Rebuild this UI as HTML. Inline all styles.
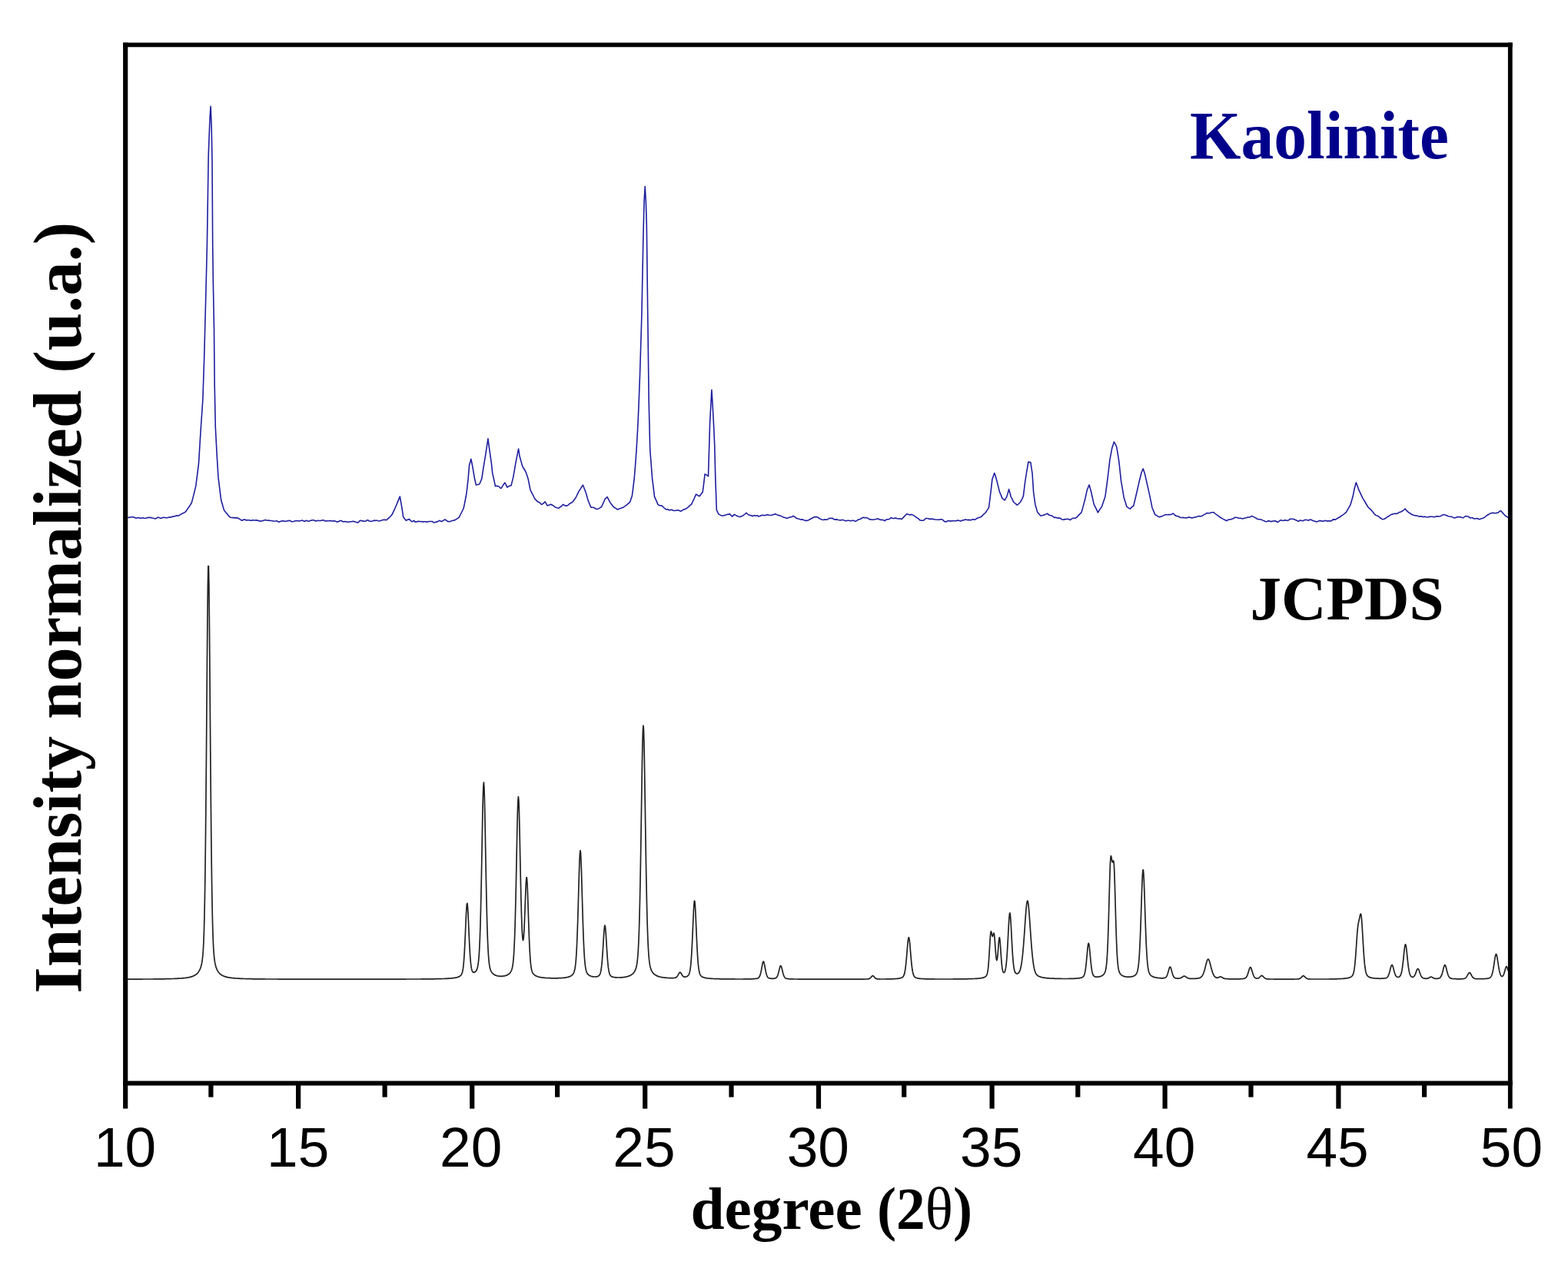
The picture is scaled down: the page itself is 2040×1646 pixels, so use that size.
<!DOCTYPE html>
<html lang="en"><head><meta charset="utf-8"><title>XRD Kaolinite vs JCPDS</title>
<style>
html,body{margin:0;padding:0;background:#fff;}
body{width:2040px;height:1646px;overflow:hidden;}
svg{display:block;}
.ax line{stroke:#000;fill:none;stroke-linecap:butt;}
.tl text{font-family:"Liberation Sans",Arial,Helvetica,sans-serif;font-size:73px;fill:#000;text-anchor:middle;}
.b{font-family:"Liberation Serif","Times New Roman",Times,serif;font-weight:bold;}
</style></head>
<body>
<svg width="2040" height="1646" viewBox="0 0 2040 1646">
<rect width="2040" height="1646" fill="#fff"/>
<g id="curves" fill="none" stroke-linejoin="round" stroke-linecap="round">
<path d="M166.6,673.3 L168.1,673.4 L169.6,673.0 L171.1,672.7 L172.6,672.7 L174.1,672.9 L175.6,673.8 L177.1,674.3 L178.6,673.7 L180.1,673.5 L181.9,674.1 L183.1,674.4 L184.6,674.0 L186.1,673.8 L187.6,674.3 L189.1,674.5 L190.6,674.0 L192.1,673.6 L193.6,673.4 L195.1,673.3 L196.5,673.6 L198.1,674.0 L199.6,674.2 L201.1,674.7 L202.6,674.9 L204.1,674.0 L205.6,673.1 L207.1,673.6 L208.6,674.4 L210.1,674.1 L211.6,673.5 L213.1,673.4 L214.7,673.5 L216.1,673.7 L217.6,673.8 L219.1,673.3 L220.6,673.1 L222.1,673.1 L223.6,672.4 L225.1,672.1 L226.6,672.0 L228.1,671.4 L229.6,670.8 L231.1,671.1 L232.9,670.8 L234.1,669.8 L235.6,669.1 L237.1,668.2 L238.6,667.4 L240.1,666.9 L242.0,665.4 L243.1,663.5 L244.6,661.4 L246.1,659.2 L247.6,657.0 L249.3,654.3 L250.6,649.4 L252.1,643.4 L253.6,637.4 L254.8,632.4 L256.6,618.3 L258.5,603.2 L259.6,585.1 L261.4,555.8 L262.6,538.7 L263.9,519.3 L265.7,464.6 L267.6,391.7 L268.6,351.8 L269.4,318.8 L270.1,275.6 L271.2,202.1 L273.0,154.7 L274.1,138.3 L275.2,165.6 L276.0,209.4 L276.7,318.8 L277.4,369.8 L278.5,428.2 L279.2,501.1 L280.3,555.8 L282.2,592.2 L284.0,621.4 L285.1,630.1 L286.6,642.1 L287.6,650.5 L289.6,657.3 L291.3,663.4 L292.6,665.2 L294.1,667.1 L295.6,668.8 L297.1,670.7 L298.6,672.6 L300.1,673.2 L301.6,673.5 L303.1,673.6 L304.6,673.6 L306.1,673.9 L307.6,673.7 L309.1,673.9 L310.6,674.8 L312.1,675.5 L313.1,676.5 L315.1,677.2 L316.6,676.3 L318.1,675.9 L319.6,676.6 L321.1,676.9 L322.6,676.7 L324.1,676.8 L325.6,677.3 L327.1,677.2 L328.6,676.7 L330.1,676.9 L331.6,677.0 L333.1,676.9 L334.6,677.1 L336.1,677.4 L337.6,678.0 L339.1,678.1 L340.6,677.8 L342.3,677.6 L343.6,677.1 L345.1,676.5 L346.6,676.9 L348.1,677.3 L349.6,677.1 L351.1,677.4 L352.6,677.5 L354.1,677.7 L355.6,678.0 L357.1,678.3 L358.6,678.0 L360.1,677.6 L361.6,678.8 L363.1,679.3 L364.6,678.5 L366.1,678.0 L367.6,677.7 L369.1,677.9 L370.6,678.4 L372.1,678.2 L373.6,677.8 L375.1,677.6 L376.6,677.3 L378.1,677.7 L378.8,678.6 L379.6,678.8 L381.1,678.8 L382.6,678.3 L384.1,677.7 L385.6,677.6 L387.1,677.7 L388.6,677.9 L390.1,677.8 L391.6,677.4 L393.1,676.9 L394.6,677.6 L396.1,678.5 L397.6,677.7 L399.1,677.2 L400.6,678.2 L402.1,678.3 L403.6,677.3 L405.1,677.1 L406.6,676.8 L408.1,676.8 L409.6,677.6 L411.1,677.9 L412.6,677.5 L414.1,677.3 L415.2,677.5 L417.1,677.4 L418.6,677.1 L420.1,676.7 L421.6,677.1 L423.1,678.0 L424.6,677.9 L426.1,677.8 L427.6,677.8 L429.1,677.5 L430.6,677.6 L432.1,678.0 L433.6,677.9 L435.1,677.8 L436.6,678.3 L438.1,678.9 L439.6,678.9 L441.1,678.3 L442.6,677.5 L444.1,677.5 L445.6,678.6 L447.1,679.0 L448.6,678.6 L450.1,678.8 L451.7,679.1 L453.1,679.3 L454.6,679.0 L456.1,678.8 L457.6,678.7 L459.1,678.3 L460.6,678.6 L462.1,679.1 L463.6,679.5 L465.1,680.1 L466.6,679.4 L468.1,677.6 L469.6,677.2 L471.1,678.0 L472.6,677.9 L474.1,678.2 L475.6,678.3 L477.1,677.0 L478.6,676.7 L480.1,677.9 L481.6,678.3 L483.1,678.2 L484.6,678.0 L486.1,677.4 L487.6,677.1 L488.2,677.5 L489.1,677.3 L490.6,677.2 L492.1,677.7 L493.6,678.0 L495.1,677.6 L496.6,676.9 L498.1,676.5 L499.6,676.3 L501.1,676.4 L502.8,676.7 L504.1,675.4 L505.6,674.1 L507.1,672.8 L508.6,671.3 L510.0,669.6 L511.6,666.3 L513.1,663.2 L514.6,659.8 L515.5,657.7 L517.6,652.6 L519.1,648.9 L520.3,646.0 L522.4,657.9 L523.6,665.4 L524.6,672.5 L526.6,675.3 L528.3,677.3 L529.6,676.5 L531.1,675.9 L532.6,675.6 L534.1,677.3 L535.6,678.8 L537.1,678.3 L538.6,677.4 L539.2,678.0 L540.0,679.1 L541.6,679.1 L543.1,678.6 L544.6,678.4 L546.1,678.5 L547.6,678.7 L548.8,678.5 L550.3,679.1 L552.1,678.7 L553.6,678.8 L555.1,679.1 L556.6,679.0 L558.1,678.5 L559.6,678.5 L561.1,678.5 L562.6,678.6 L564.1,679.8 L565.6,679.9 L567.1,679.1 L568.6,679.1 L570.1,678.3 L571.6,677.3 L573.1,678.0 L574.6,678.6 L575.3,678.4 L576.1,677.7 L577.6,676.7 L579.0,676.0 L580.6,677.2 L582.6,678.5 L583.6,678.6 L585.1,678.8 L586.6,678.1 L588.5,677.6 L589.6,677.2 L591.1,676.9 L592.6,676.3 L594.1,675.3 L595.6,674.3 L597.4,673.0 L598.6,670.5 L600.1,667.5 L601.6,664.5 L603.2,661.2 L604.6,654.4 L606.1,646.5 L606.9,642.1 L607.6,636.4 L609.1,622.9 L610.6,605.3 L612.1,600.0 L612.8,597.2 L613.6,601.0 L615.0,608.2 L616.6,617.6 L617.2,621.5 L618.1,625.2 L619.4,631.0 L621.1,630.6 L622.6,630.2 L623.8,630.0 L625.6,625.8 L626.8,622.9 L629.0,608.2 L630.1,601.7 L631.9,590.6 L633.1,582.9 L634.9,570.8 L636.3,581.7 L637.6,590.4 L639.3,602.3 L640.7,615.6 L642.1,621.8 L643.6,628.7 L644.4,632.6 L645.1,632.2 L646.6,632.4 L648.1,632.7 L648.8,632.7 L649.6,633.5 L651.1,635.0 L651.8,635.5 L652.6,634.4 L654.1,632.1 L655.6,629.7 L656.9,628.1 L658.6,631.3 L659.9,634.1 L661.6,632.8 L663.1,632.1 L665.0,631.8 L666.1,627.6 L667.9,620.1 L669.1,613.2 L670.9,602.3 L672.1,596.4 L673.6,588.9 L674.6,584.0 L676.0,593.5 L678.1,600.9 L679.7,606.7 L681.1,609.0 L682.6,611.5 L684.1,614.1 L685.6,618.6 L687.1,623.1 L688.6,630.5 L690.0,637.6 L691.6,640.6 L693.1,643.6 L694.6,646.5 L695.9,649.1 L697.6,650.9 L699.1,652.3 L700.6,653.2 L702.1,654.1 L703.6,655.5 L704.7,656.5 L706.6,655.2 L708.1,653.9 L709.1,652.9 L711.1,656.1 L712.1,658.0 L714.1,657.3 L715.6,656.8 L716.5,656.2 L718.6,657.3 L720.1,658.1 L721.6,659.3 L723.1,660.3 L724.6,660.7 L726.1,661.0 L726.8,661.3 L727.6,660.7 L729.1,659.6 L730.6,658.5 L732.6,656.4 L733.6,656.9 L735.1,657.9 L737.1,658.3 L738.1,657.8 L739.6,656.8 L741.1,655.4 L742.6,654.5 L744.4,653.8 L745.6,652.3 L747.1,650.3 L748.8,648.1 L750.1,645.5 L751.6,642.3 L753.2,639.0 L754.6,637.1 L756.1,634.7 L757.6,632.2 L758.4,631.2 L759.1,633.0 L760.6,636.8 L762.1,640.6 L763.6,645.8 L765.0,650.9 L766.6,654.8 L768.1,658.4 L768.7,659.9 L769.6,660.1 L771.1,660.2 L772.6,660.5 L774.1,661.4 L775.6,662.3 L776.8,662.5 L778.6,661.9 L780.1,661.1 L781.6,659.9 L782.6,659.5 L784.6,655.2 L786.1,651.7 L787.1,649.3 L789.1,647.6 L790.0,646.5 L792.1,650.7 L793.7,653.6 L795.1,655.6 L796.6,657.6 L798.1,659.3 L798.8,660.2 L799.6,660.5 L801.1,661.3 L802.6,662.3 L803.2,662.9 L804.1,662.7 L805.6,662.0 L807.1,661.5 L808.6,660.9 L810.6,660.3 L811.6,659.7 L813.1,658.7 L814.6,657.6 L816.1,656.3 L817.6,654.9 L819.4,653.8 L820.6,650.4 L822.4,645.0 L823.6,635.6 L825.2,622.6 L826.6,605.3 L828.1,584.7 L829.6,558.4 L830.2,546.8 L831.1,525.0 L832.5,488.5 L834.1,436.5 L834.9,409.7 L835.6,374.4 L836.9,307.5 L838.1,260.8 L839.2,242.6 L840.4,263.8 L841.3,292.9 L842.7,406.8 L844.2,523.5 L845.7,584.7 L847.6,609.5 L848.6,622.6 L850.6,638.6 L851.5,646.1 L853.6,650.9 L855.1,654.4 L855.9,656.3 L856.6,656.9 L858.1,657.8 L859.6,657.8 L861.1,658.1 L861.7,658.5 L862.6,659.5 L864.1,661.0 L865.6,662.2 L867.5,663.1 L868.6,662.6 L870.1,663.6 L871.6,663.8 L873.1,663.2 L874.6,663.5 L876.1,664.2 L877.6,664.5 L879.1,664.3 L880.6,664.1 L882.1,663.8 L883.6,664.3 L885.1,665.1 L886.6,664.8 L888.1,663.8 L889.6,662.9 L890.9,662.8 L892.6,661.8 L894.1,660.8 L895.6,659.6 L897.1,658.2 L898.6,656.9 L899.6,656.1 L901.6,652.0 L903.1,648.8 L904.6,645.4 L905.5,643.2 L907.6,644.3 L909.1,645.3 L909.9,645.7 L910.6,644.9 L912.1,642.9 L913.6,641.0 L914.2,640.2 L915.1,633.5 L917.1,616.9 L918.1,617.4 L919.6,618.1 L921.5,619.7 L922.6,584.1 L923.6,549.7 L925.9,507.4 L927.1,526.5 L927.9,541.0 L928.6,554.4 L929.7,578.9 L930.9,625.6 L931.6,643.9 L932.3,663.5 L933.1,665.1 L934.7,668.8 L936.1,669.6 L937.6,670.4 L939.6,671.2 L940.6,671.0 L942.1,670.6 L943.6,670.3 L945.1,669.8 L946.6,669.3 L948.1,669.1 L949.4,668.9 L951.1,670.6 L952.4,672.1 L954.1,670.7 L955.3,669.4 L957.1,670.4 L958.6,671.2 L960.1,671.8 L961.6,672.2 L963.1,672.5 L964.6,671.8 L966.1,671.1 L967.6,670.2 L969.1,669.0 L971.0,667.3 L972.1,668.5 L973.6,669.7 L975.1,670.4 L976.6,670.6 L978.1,671.1 L978.8,671.8 L979.6,671.3 L981.1,670.6 L982.6,671.1 L984.1,671.0 L985.6,670.8 L986.7,671.9 L988.6,671.5 L990.1,670.7 L991.6,670.2 L992.5,670.4 L994.6,670.8 L996.1,670.3 L997.6,669.9 L999.1,669.8 L1000.4,670.2 L1002.1,670.5 L1003.6,670.3 L1005.1,669.9 L1006.6,669.5 L1008.2,668.7 L1009.6,669.1 L1011.1,669.9 L1012.6,670.4 L1014.1,670.7 L1015.6,671.2 L1017.1,671.9 L1018.6,672.7 L1020.1,673.2 L1022.0,673.8 L1023.1,674.4 L1024.6,674.3 L1026.1,673.6 L1027.6,672.9 L1029.1,672.7 L1030.6,672.5 L1031.8,671.4 L1033.6,672.3 L1035.1,673.5 L1036.6,674.6 L1038.1,675.0 L1039.6,675.2 L1041.1,675.8 L1042.6,676.1 L1044.1,675.9 L1045.5,676.6 L1047.1,677.3 L1048.6,677.4 L1050.1,677.4 L1051.6,676.9 L1053.3,676.0 L1054.6,675.3 L1056.1,674.5 L1057.6,673.5 L1059.1,672.9 L1060.6,672.6 L1061.2,672.9 L1062.1,672.4 L1063.6,672.9 L1065.1,674.0 L1066.6,674.9 L1068.1,675.6 L1069.6,676.2 L1071.0,676.5 L1072.6,676.0 L1074.1,676.1 L1075.6,676.3 L1077.1,675.7 L1078.6,674.5 L1080.1,674.2 L1080.8,674.5 L1081.6,674.3 L1083.1,674.4 L1084.6,675.5 L1086.1,676.1 L1087.6,675.9 L1089.1,676.1 L1090.6,676.5 L1092.1,676.8 L1093.6,676.9 L1095.1,676.5 L1096.6,676.5 L1098.1,677.0 L1099.6,677.4 L1100.4,677.9 L1101.1,677.7 L1102.6,677.2 L1104.1,677.2 L1105.6,677.6 L1107.1,677.7 L1108.6,677.2 L1110.1,677.2 L1112.2,678.1 L1113.1,678.3 L1114.6,677.6 L1116.1,676.4 L1117.6,675.8 L1119.1,675.5 L1120.6,674.5 L1122.1,673.6 L1123.9,673.3 L1125.1,673.8 L1126.6,673.8 L1128.1,673.8 L1129.6,674.6 L1131.1,675.7 L1131.8,675.9 L1132.6,675.8 L1134.1,676.2 L1135.6,676.3 L1137.1,676.0 L1138.6,675.8 L1140.1,675.4 L1141.6,675.0 L1143.5,675.4 L1144.6,676.2 L1146.1,676.4 L1147.6,676.3 L1149.1,676.7 L1150.6,677.4 L1151.4,677.6 L1152.1,676.8 L1153.6,675.9 L1155.1,675.7 L1156.6,675.6 L1158.1,674.6 L1159.2,673.6 L1161.1,674.3 L1162.6,674.8 L1164.1,674.1 L1165.6,674.0 L1167.1,674.7 L1168.6,675.0 L1170.1,674.7 L1171.6,675.0 L1172.9,675.6 L1174.6,674.0 L1176.1,672.4 L1177.6,670.7 L1179.1,669.2 L1179.8,668.7 L1180.6,669.1 L1182.1,669.6 L1183.6,670.0 L1185.1,669.6 L1186.6,669.6 L1188.6,670.6 L1189.6,671.3 L1191.1,672.4 L1192.6,673.5 L1194.1,674.4 L1195.6,675.5 L1196.5,676.7 L1198.6,677.1 L1200.1,677.3 L1201.6,677.2 L1203.1,675.9 L1204.3,674.5 L1206.1,674.5 L1207.6,674.8 L1209.1,675.4 L1210.6,675.4 L1212.1,675.1 L1213.6,675.4 L1215.1,675.6 L1216.6,676.0 L1218.1,676.3 L1219.6,676.2 L1221.1,676.3 L1222.6,676.1 L1223.9,675.8 L1225.6,675.8 L1227.1,676.9 L1228.6,678.4 L1230.1,678.9 L1231.6,678.6 L1233.1,677.8 L1234.6,677.6 L1236.1,678.1 L1237.6,677.9 L1239.1,677.6 L1240.6,677.7 L1242.1,677.8 L1243.5,677.8 L1245.1,677.4 L1246.6,677.0 L1248.1,677.5 L1249.6,678.1 L1251.1,677.4 L1252.6,676.8 L1253.3,677.0 L1254.1,676.8 L1255.6,676.0 L1257.1,676.2 L1258.6,676.6 L1260.0,676.4 L1261.6,676.6 L1263.1,676.8 L1264.6,676.1 L1266.1,675.7 L1267.6,676.2 L1268.8,676.1 L1270.6,674.7 L1272.1,673.9 L1273.6,673.5 L1275.1,673.1 L1276.2,672.8 L1278.1,670.9 L1279.6,669.3 L1281.1,668.0 L1282.1,667.2 L1284.1,664.1 L1285.6,661.9 L1286.5,660.5 L1288.7,642.9 L1290.1,630.9 L1290.9,623.7 L1291.6,621.7 L1293.1,617.3 L1293.8,615.5 L1294.6,617.7 L1296.1,622.8 L1296.8,625.2 L1297.6,628.4 L1299.1,634.4 L1300.4,639.9 L1302.1,643.8 L1304.1,648.6 L1305.1,649.1 L1307.1,651.0 L1308.1,649.3 L1310.0,645.9 L1311.1,642.1 L1312.6,636.6 L1314.1,641.8 L1315.1,646.0 L1317.1,649.9 L1318.8,653.4 L1320.1,654.5 L1321.6,655.7 L1323.2,657.2 L1324.6,656.3 L1326.1,654.7 L1327.6,653.2 L1329.1,650.5 L1330.6,647.4 L1331.3,645.8 L1332.1,639.9 L1333.5,628.2 L1335.1,618.0 L1335.7,613.5 L1336.6,608.8 L1337.9,601.0 L1339.6,601.4 L1340.9,601.7 L1343.1,616.5 L1344.6,640.1 L1345.6,647.5 L1346.8,656.2 L1348.6,662.4 L1349.7,666.4 L1351.6,668.6 L1353.1,670.2 L1354.1,671.3 L1356.1,670.8 L1357.6,670.2 L1359.1,669.7 L1360.6,669.2 L1362.1,668.4 L1362.9,668.2 L1363.6,669.3 L1365.1,670.2 L1366.6,670.6 L1368.1,670.9 L1369.6,671.9 L1371.1,673.1 L1371.8,673.4 L1372.6,673.2 L1374.1,673.4 L1375.6,674.0 L1377.1,674.1 L1378.6,674.1 L1380.6,675.0 L1381.6,676.0 L1383.1,676.2 L1384.6,675.9 L1386.1,675.6 L1387.6,675.5 L1389.1,675.2 L1390.6,675.8 L1392.4,676.6 L1393.6,675.7 L1395.1,674.6 L1396.6,674.2 L1398.1,674.2 L1399.6,673.9 L1401.2,672.9 L1402.6,671.1 L1404.1,669.6 L1405.6,668.1 L1407.1,666.5 L1408.6,661.1 L1410.1,655.6 L1411.5,650.3 L1413.1,643.1 L1414.4,637.2 L1416.1,633.2 L1417.1,630.9 L1419.6,640.0 L1420.6,644.5 L1422.1,651.1 L1423.2,656.2 L1425.1,659.8 L1426.6,662.9 L1428.4,666.9 L1429.6,664.8 L1431.1,662.6 L1432.6,660.5 L1433.5,659.1 L1435.6,653.0 L1437.1,648.4 L1437.9,645.9 L1438.6,641.2 L1440.1,629.9 L1440.9,623.8 L1441.6,618.0 L1443.1,605.3 L1443.8,598.8 L1444.6,594.7 L1446.1,586.6 L1446.8,582.9 L1447.6,580.5 L1449.4,575.1 L1450.6,577.0 L1452.6,581.2 L1453.6,586.7 L1455.6,598.9 L1456.6,607.6 L1458.5,625.3 L1459.6,631.6 L1461.1,640.6 L1462.2,647.4 L1464.1,653.3 L1465.9,659.2 L1467.1,660.1 L1468.6,661.1 L1470.3,662.2 L1471.6,660.7 L1473.1,659.3 L1474.7,658.4 L1476.1,652.8 L1477.6,646.4 L1478.4,643.0 L1479.1,640.0 L1480.6,633.3 L1482.1,626.7 L1483.6,620.8 L1485.0,615.0 L1486.6,611.3 L1487.2,609.9 L1488.1,612.4 L1489.4,616.4 L1491.1,623.9 L1492.4,629.7 L1494.1,637.1 L1496.0,645.9 L1497.1,651.1 L1499.0,660.7 L1500.1,663.2 L1501.6,666.9 L1502.6,669.5 L1504.6,670.6 L1506.1,671.6 L1507.6,672.5 L1508.5,672.8 L1510.6,672.0 L1512.1,671.6 L1513.6,670.9 L1515.1,670.1 L1516.6,669.7 L1517.4,669.8 L1518.1,669.8 L1519.6,669.7 L1521.1,669.6 L1522.6,669.6 L1524.1,669.2 L1525.6,668.4 L1526.2,668.0 L1527.1,668.8 L1528.6,670.3 L1530.1,671.2 L1532.1,671.8 L1533.1,671.7 L1534.6,672.9 L1536.1,673.5 L1537.6,673.5 L1539.1,673.4 L1540.0,673.6 L1542.1,673.8 L1543.6,673.9 L1545.1,673.5 L1546.6,672.9 L1548.1,673.2 L1549.6,673.7 L1550.8,674.1 L1552.6,673.5 L1554.1,673.0 L1555.6,672.9 L1557.1,672.4 L1558.6,671.7 L1560.1,671.5 L1561.6,672.0 L1563.1,671.6 L1564.6,670.9 L1566.1,669.9 L1567.6,669.1 L1569.1,668.2 L1570.2,667.5 L1572.1,667.8 L1573.6,667.8 L1575.1,667.1 L1576.6,666.7 L1578.1,666.7 L1578.8,666.6 L1579.6,667.2 L1581.1,668.5 L1582.6,669.7 L1584.1,670.7 L1585.6,671.7 L1587.5,673.3 L1588.6,673.8 L1590.1,674.6 L1591.6,675.6 L1593.1,676.3 L1594.6,677.0 L1596.1,677.7 L1597.6,676.4 L1599.1,676.0 L1600.6,675.9 L1602.1,675.6 L1603.6,675.1 L1605.1,674.3 L1606.9,673.2 L1608.1,673.3 L1609.6,673.5 L1611.1,674.1 L1612.6,674.3 L1614.1,674.3 L1615.6,674.8 L1617.1,674.9 L1618.6,674.2 L1619.8,674.0 L1621.6,673.7 L1623.1,673.1 L1624.6,673.0 L1626.1,672.9 L1627.6,672.1 L1628.4,671.4 L1629.1,671.7 L1630.6,672.4 L1632.1,673.1 L1633.6,673.8 L1634.9,674.8 L1636.6,675.6 L1638.1,675.8 L1639.6,675.8 L1641.1,676.2 L1642.6,676.9 L1644.1,677.6 L1645.7,678.3 L1647.1,678.7 L1648.6,678.5 L1650.1,677.6 L1651.6,677.9 L1653.1,678.7 L1654.6,678.4 L1656.5,678.0 L1657.6,677.9 L1659.1,677.7 L1660.6,678.5 L1662.1,679.6 L1663.6,678.8 L1665.1,677.3 L1666.6,676.8 L1668.1,677.3 L1669.6,677.5 L1671.1,676.9 L1672.6,676.7 L1674.1,677.4 L1675.6,677.3 L1677.1,676.3 L1678.1,675.4 L1680.1,675.2 L1681.6,675.2 L1683.1,675.5 L1684.6,676.3 L1686.1,676.8 L1687.6,677.4 L1689.1,678.3 L1690.6,677.8 L1692.1,676.9 L1693.6,677.5 L1695.1,677.8 L1696.6,676.8 L1698.1,676.4 L1699.6,676.5 L1701.1,676.8 L1702.6,677.1 L1704.1,676.2 L1705.6,676.1 L1707.1,677.0 L1708.2,677.4 L1710.1,678.1 L1711.6,678.5 L1712.6,678.9 L1714.6,678.5 L1716.1,677.6 L1717.6,677.6 L1719.1,677.9 L1720.6,678.1 L1722.1,678.0 L1723.6,677.4 L1725.1,677.5 L1726.6,678.1 L1728.1,677.9 L1729.8,677.8 L1731.1,678.1 L1732.6,677.6 L1734.1,676.1 L1735.6,675.9 L1737.1,676.2 L1738.6,675.4 L1740.1,674.3 L1741.6,673.5 L1742.8,673.0 L1744.6,671.7 L1746.1,670.7 L1747.6,669.7 L1749.1,668.5 L1750.6,667.1 L1751.4,666.5 L1752.1,665.4 L1753.6,662.7 L1755.1,660.1 L1756.8,657.2 L1758.1,652.9 L1760.0,646.3 L1761.1,641.1 L1762.2,635.5 L1764.3,627.9 L1765.6,631.2 L1767.6,636.6 L1768.6,638.8 L1770.1,642.2 L1771.6,645.4 L1773.0,648.3 L1774.6,650.9 L1776.1,653.5 L1777.6,656.0 L1779.4,659.2 L1780.6,660.6 L1782.1,661.9 L1783.6,663.3 L1785.1,665.0 L1786.6,666.8 L1788.1,668.8 L1789.6,670.2 L1791.1,670.9 L1792.6,671.3 L1794.1,672.4 L1795.6,673.8 L1797.1,674.7 L1798.8,675.8 L1800.1,675.5 L1801.6,675.1 L1803.1,674.0 L1804.6,672.8 L1806.1,672.0 L1807.6,671.2 L1809.6,669.7 L1810.6,669.2 L1812.1,668.9 L1813.6,668.5 L1815.1,668.2 L1816.6,668.4 L1818.1,668.2 L1819.6,667.1 L1820.4,666.6 L1821.1,666.5 L1822.6,666.0 L1824.1,665.3 L1825.6,664.2 L1827.1,663.0 L1828.0,661.9 L1830.1,664.4 L1831.6,665.9 L1833.1,667.0 L1834.6,667.9 L1835.5,668.7 L1837.6,669.7 L1839.1,670.3 L1840.6,670.7 L1842.1,670.9 L1844.1,671.1 L1845.1,671.6 L1846.6,672.3 L1848.1,671.7 L1849.6,671.9 L1851.1,672.6 L1852.6,672.4 L1854.1,672.3 L1855.6,672.7 L1857.1,673.0 L1858.6,672.7 L1859.2,672.2 L1860.1,672.4 L1861.6,672.3 L1863.1,672.2 L1864.6,672.5 L1866.1,672.6 L1867.6,672.3 L1869.1,671.8 L1870.6,671.9 L1872.2,672.0 L1873.6,671.7 L1875.1,671.2 L1876.6,670.2 L1878.7,669.6 L1879.6,670.0 L1881.1,670.3 L1882.6,671.0 L1884.1,671.7 L1885.6,672.0 L1887.3,672.2 L1888.6,672.2 L1890.1,673.1 L1891.6,673.9 L1893.1,673.8 L1894.6,673.2 L1896.1,672.6 L1897.6,672.5 L1899.1,672.8 L1900.6,672.9 L1902.1,673.5 L1903.6,673.8 L1905.1,672.7 L1906.7,671.6 L1908.1,671.8 L1909.6,672.0 L1911.1,672.7 L1912.6,673.9 L1914.1,673.8 L1915.6,673.6 L1917.1,674.5 L1918.6,675.1 L1920.1,674.7 L1921.6,674.6 L1923.1,675.0 L1924.0,675.6 L1924.6,675.6 L1926.1,675.3 L1927.6,674.8 L1929.1,674.3 L1930.6,673.7 L1932.6,672.3 L1933.6,671.2 L1935.1,670.3 L1936.6,669.5 L1938.1,668.6 L1939.1,668.0 L1941.1,667.4 L1942.6,667.2 L1944.1,667.8 L1945.6,667.7 L1947.1,667.3 L1947.7,667.5 L1948.6,667.3 L1950.1,666.1 L1951.6,664.9 L1953.1,665.0 L1954.6,666.9 L1956.1,668.5 L1957.6,670.2 L1958.5,671.3 L1960.6,672.4 L1961.7,672.9" stroke="#1e1e9e" stroke-width="1.6"/>
<path d="M165.9,1274.1 L166.4,1274.1 L166.9,1274.1 L167.4,1274.1 L167.9,1274.1 L168.4,1274.1 L168.9,1274.1 L169.4,1274.1 L169.9,1274.1 L170.4,1274.1 L170.9,1274.1 L171.4,1274.1 L171.9,1274.1 L172.4,1274.1 L172.9,1274.1 L173.4,1274.1 L173.9,1274.1 L174.4,1274.1 L174.9,1274.1 L175.4,1274.1 L175.9,1274.1 L176.4,1274.1 L176.9,1274.1 L177.4,1274.1 L177.9,1274.1 L178.4,1274.1 L178.9,1274.1 L179.4,1274.1 L179.9,1274.1 L180.4,1274.1 L180.9,1274.1 L181.4,1274.1 L181.9,1274.1 L182.4,1274.1 L182.9,1274.1 L183.4,1274.1 L183.9,1274.1 L184.4,1274.1 L184.9,1274.1 L185.4,1274.1 L185.9,1274.0 L186.4,1274.0 L186.9,1274.0 L187.4,1274.0 L187.9,1274.0 L188.4,1274.0 L188.9,1274.0 L189.4,1274.0 L189.9,1274.0 L190.4,1274.0 L190.9,1274.0 L191.4,1274.0 L191.9,1274.0 L192.4,1274.0 L192.9,1274.0 L193.4,1274.0 L193.9,1274.0 L194.4,1274.0 L194.9,1274.0 L195.4,1274.0 L195.9,1274.0 L196.4,1274.0 L196.9,1274.0 L197.4,1274.0 L197.9,1274.0 L198.4,1274.0 L198.9,1274.0 L199.4,1274.0 L199.9,1273.9 L200.4,1273.9 L200.9,1273.9 L201.4,1273.9 L201.9,1273.9 L202.4,1273.9 L202.9,1273.9 L203.4,1273.9 L203.9,1273.9 L204.4,1273.9 L204.9,1273.9 L205.4,1273.9 L205.9,1273.9 L206.4,1273.9 L206.9,1273.9 L207.4,1273.9 L207.9,1273.9 L208.4,1273.9 L208.9,1273.8 L209.4,1273.8 L209.9,1273.8 L210.4,1273.8 L210.9,1273.8 L211.4,1273.8 L211.9,1273.8 L212.4,1273.8 L212.9,1273.8 L213.4,1273.8 L213.9,1273.8 L214.4,1273.8 L214.9,1273.7 L215.4,1273.7 L215.9,1273.7 L216.4,1273.7 L216.9,1273.7 L217.4,1273.7 L217.9,1273.7 L218.4,1273.7 L218.9,1273.7 L219.4,1273.7 L219.9,1273.6 L220.4,1273.6 L220.9,1273.6 L221.4,1273.6 L221.9,1273.6 L222.4,1273.6 L222.9,1273.6 L223.4,1273.5 L223.9,1273.5 L224.4,1273.5 L224.9,1273.5 L225.4,1273.5 L225.9,1273.5 L226.4,1273.4 L226.9,1273.4 L227.4,1273.4 L227.9,1273.4 L228.4,1273.4 L228.9,1273.3 L229.4,1273.3 L229.9,1273.3 L230.4,1273.3 L230.9,1273.2 L231.4,1273.2 L231.9,1273.2 L232.4,1273.2 L232.9,1273.1 L233.4,1273.1 L233.9,1273.1 L234.4,1273.0 L234.9,1273.0 L235.4,1273.0 L235.9,1272.9 L236.4,1272.9 L236.9,1272.9 L237.4,1272.8 L237.9,1272.8 L238.4,1272.7 L238.9,1272.7 L239.4,1272.6 L239.9,1272.6 L240.4,1272.5 L240.9,1272.5 L241.4,1272.4 L241.9,1272.3 L242.4,1272.3 L242.9,1272.2 L243.4,1272.1 L243.9,1272.0 L244.4,1272.0 L244.9,1271.9 L245.4,1271.8 L245.9,1271.7 L246.4,1271.6 L246.9,1271.5 L247.4,1271.3 L247.9,1271.2 L248.4,1271.1 L248.9,1270.9 L249.4,1270.8 L249.9,1270.6 L250.4,1270.4 L250.9,1270.3 L251.4,1270.1 L251.9,1269.8 L252.4,1269.6 L252.9,1269.3 L253.4,1269.1 L253.9,1268.8 L254.4,1268.4 L254.9,1268.1 L255.4,1267.7 L255.9,1267.3 L256.4,1266.8 L256.9,1266.3 L257.4,1265.7 L257.9,1265.1 L258.4,1264.4 L258.9,1263.6 L259.4,1262.8 L259.9,1261.8 L260.4,1260.7 L260.9,1259.4 L261.4,1257.9 L261.9,1256.1 L262.4,1253.9 L262.9,1251.1 L263.4,1247.5 L263.9,1242.7 L264.4,1235.9 L264.9,1226.4 L265.4,1213.0 L265.9,1194.6 L266.4,1169.8 L266.9,1137.4 L267.4,1096.5 L267.9,1047.2 L268.4,990.4 L268.9,928.5 L269.4,865.6 L269.9,807.5 L270.4,761.9 L270.9,736.5 L271.4,736.7 L271.9,762.3 L272.4,808.2 L272.9,866.3 L273.4,929.3 L273.9,991.1 L274.4,1047.8 L274.9,1097.1 L275.4,1137.8 L275.9,1170.2 L276.4,1194.9 L276.9,1213.2 L277.4,1226.5 L277.9,1236.0 L278.4,1242.7 L278.9,1247.6 L279.4,1251.2 L279.9,1253.9 L280.4,1256.1 L280.9,1257.9 L281.4,1259.4 L281.9,1260.7 L282.4,1261.8 L282.9,1262.8 L283.4,1263.6 L283.9,1264.4 L284.4,1265.1 L284.9,1265.7 L285.4,1266.3 L285.9,1266.8 L286.4,1267.3 L286.9,1267.7 L287.4,1268.1 L287.9,1268.4 L288.4,1268.8 L288.9,1269.1 L289.4,1269.3 L289.9,1269.6 L290.4,1269.8 L290.9,1270.0 L291.4,1270.2 L291.9,1270.4 L292.4,1270.6 L292.9,1270.8 L293.4,1270.9 L293.9,1271.1 L294.4,1271.2 L294.9,1271.3 L295.4,1271.4 L295.9,1271.6 L296.4,1271.7 L296.9,1271.8 L297.4,1271.9 L297.9,1271.9 L298.4,1272.0 L298.9,1272.1 L299.4,1272.2 L299.9,1272.3 L300.4,1272.3 L300.9,1272.4 L301.4,1272.4 L301.9,1272.5 L302.4,1272.6 L302.9,1272.6 L303.4,1272.7 L303.9,1272.7 L304.4,1272.8 L304.9,1272.8 L305.4,1272.8 L305.9,1272.9 L306.4,1272.9 L306.9,1273.0 L307.4,1273.0 L307.9,1273.0 L308.4,1273.1 L308.9,1273.1 L309.4,1273.1 L309.9,1273.2 L310.4,1273.2 L310.9,1273.2 L311.4,1273.2 L311.9,1273.3 L312.4,1273.3 L312.9,1273.3 L313.4,1273.3 L313.9,1273.3 L314.4,1273.4 L314.9,1273.4 L315.4,1273.4 L315.9,1273.4 L316.4,1273.4 L316.9,1273.5 L317.4,1273.5 L317.9,1273.5 L318.4,1273.5 L318.9,1273.5 L319.4,1273.5 L319.9,1273.6 L320.4,1273.6 L320.9,1273.6 L321.4,1273.6 L321.9,1273.6 L322.4,1273.6 L322.9,1273.6 L323.4,1273.6 L323.9,1273.7 L324.4,1273.7 L324.9,1273.7 L325.4,1273.7 L325.9,1273.7 L326.4,1273.7 L326.9,1273.7 L327.4,1273.7 L327.9,1273.7 L328.4,1273.8 L328.9,1273.8 L329.4,1273.8 L329.9,1273.8 L330.4,1273.8 L330.9,1273.8 L331.4,1273.8 L331.9,1273.8 L332.4,1273.8 L332.9,1273.8 L333.4,1273.8 L333.9,1273.8 L334.4,1273.8 L334.9,1273.8 L335.4,1273.9 L335.9,1273.9 L336.4,1273.9 L336.9,1273.9 L337.4,1273.9 L337.9,1273.9 L338.4,1273.9 L338.9,1273.9 L339.4,1273.9 L339.9,1273.9 L340.4,1273.9 L340.9,1273.9 L341.4,1273.9 L341.9,1273.9 L342.4,1273.9 L342.9,1273.9 L343.4,1273.9 L343.9,1273.9 L344.4,1273.9 L344.9,1274.0 L345.4,1274.0 L345.9,1274.0 L346.4,1274.0 L346.9,1274.0 L347.4,1274.0 L347.9,1274.0 L348.4,1274.0 L348.9,1274.0 L349.4,1274.0 L349.9,1274.0 L350.4,1274.0 L350.9,1274.0 L351.4,1274.0 L351.9,1274.0 L352.4,1274.0 L352.9,1274.0 L353.4,1274.0 L353.9,1274.0 L354.4,1274.0 L354.9,1274.0 L355.4,1274.0 L355.9,1274.0 L356.4,1274.0 L356.9,1274.0 L357.4,1274.0 L357.9,1274.0 L358.4,1274.0 L358.9,1274.0 L359.4,1274.0 L359.9,1274.0 L360.4,1274.0 L360.9,1274.0 L361.4,1274.0 L361.9,1274.1 L362.4,1274.1 L362.9,1274.1 L363.4,1274.1 L363.9,1274.1 L364.4,1274.1 L364.9,1274.1 L365.4,1274.1 L365.9,1274.1 L366.4,1274.1 L366.9,1274.1 L367.4,1274.1 L367.9,1274.1 L368.4,1274.1 L368.9,1274.1 L369.4,1274.1 L369.9,1274.1 L370.4,1274.1 L370.9,1274.1 L371.4,1274.1 L371.9,1274.1 L372.4,1274.1 L372.9,1274.1 L373.4,1274.1 L373.9,1274.1 L374.4,1274.1 L374.9,1274.1 L375.4,1274.1 L375.9,1274.1 L376.4,1274.1 L376.9,1274.1 L377.4,1274.1 L377.9,1274.1 L378.4,1274.1 L378.9,1274.1 L379.4,1274.1 L379.9,1274.1 L380.4,1274.1 L380.9,1274.1 L381.4,1274.1 L381.9,1274.1 L382.4,1274.1 L382.9,1274.1 L383.4,1274.1 L383.9,1274.1 L384.4,1274.1 L384.9,1274.1 L385.4,1274.1 L385.9,1274.1 L386.4,1274.1 L386.9,1274.1 L387.4,1274.1 L387.9,1274.1 L388.4,1274.1 L388.9,1274.1 L389.4,1274.1 L389.9,1274.1 L390.4,1274.1 L390.9,1274.1 L391.4,1274.1 L391.9,1274.1 L392.4,1274.1 L392.9,1274.1 L393.4,1274.1 L393.9,1274.1 L394.4,1274.1 L394.9,1274.1 L395.4,1274.1 L395.9,1274.1 L396.4,1274.1 L396.9,1274.1 L397.4,1274.1 L397.9,1274.1 L398.4,1274.1 L398.9,1274.1 L399.4,1274.1 L399.9,1274.1 L400.4,1274.1 L400.9,1274.1 L401.4,1274.1 L401.9,1274.1 L402.4,1274.1 L402.9,1274.1 L403.4,1274.1 L403.9,1274.1 L404.4,1274.1 L404.9,1274.1 L405.4,1274.1 L405.9,1274.1 L406.4,1274.1 L406.9,1274.1 L407.4,1274.1 L407.9,1274.1 L408.4,1274.1 L408.9,1274.1 L409.4,1274.1 L409.9,1274.2 L410.4,1274.2 L410.9,1274.2 L411.4,1274.2 L411.9,1274.2 L412.4,1274.2 L412.9,1274.2 L413.4,1274.2 L413.9,1274.2 L414.4,1274.2 L414.9,1274.2 L415.4,1274.2 L415.9,1274.2 L416.4,1274.2 L416.9,1274.2 L417.4,1274.2 L417.9,1274.2 L418.4,1274.2 L418.9,1274.2 L419.4,1274.2 L419.9,1274.2 L420.4,1274.2 L420.9,1274.2 L421.4,1274.2 L421.9,1274.2 L422.4,1274.2 L422.9,1274.2 L423.4,1274.2 L423.9,1274.2 L424.4,1274.2 L424.9,1274.2 L425.4,1274.2 L425.9,1274.2 L426.4,1274.2 L426.9,1274.2 L427.4,1274.2 L427.9,1274.2 L428.4,1274.2 L428.9,1274.2 L429.4,1274.2 L429.9,1274.2 L430.4,1274.2 L430.9,1274.2 L431.4,1274.2 L431.9,1274.2 L432.4,1274.2 L432.9,1274.2 L433.4,1274.2 L433.9,1274.2 L434.4,1274.2 L434.9,1274.2 L435.4,1274.2 L435.9,1274.2 L436.4,1274.2 L436.9,1274.2 L437.4,1274.2 L437.9,1274.2 L438.4,1274.2 L438.9,1274.2 L439.4,1274.2 L439.9,1274.2 L440.4,1274.2 L440.9,1274.2 L441.4,1274.2 L441.9,1274.2 L442.4,1274.2 L442.9,1274.2 L443.4,1274.2 L443.9,1274.2 L444.4,1274.2 L444.9,1274.2 L445.4,1274.2 L445.9,1274.2 L446.4,1274.2 L446.9,1274.2 L447.4,1274.2 L447.9,1274.2 L448.4,1274.2 L448.9,1274.2 L449.4,1274.2 L449.9,1274.2 L450.4,1274.2 L450.9,1274.2 L451.4,1274.2 L451.9,1274.2 L452.4,1274.2 L452.9,1274.2 L453.4,1274.2 L453.9,1274.2 L454.4,1274.2 L454.9,1274.2 L455.4,1274.2 L455.9,1274.2 L456.4,1274.2 L456.9,1274.2 L457.4,1274.2 L457.9,1274.2 L458.4,1274.2 L458.9,1274.2 L459.4,1274.2 L459.9,1274.2 L460.4,1274.2 L460.9,1274.2 L461.4,1274.2 L461.9,1274.2 L462.4,1274.2 L462.9,1274.2 L463.4,1274.2 L463.9,1274.2 L464.4,1274.2 L464.9,1274.2 L465.4,1274.2 L465.9,1274.2 L466.4,1274.2 L466.9,1274.2 L467.4,1274.2 L467.9,1274.2 L468.4,1274.2 L468.9,1274.2 L469.4,1274.2 L469.9,1274.2 L470.4,1274.2 L470.9,1274.2 L471.4,1274.2 L471.9,1274.2 L472.4,1274.2 L472.9,1274.2 L473.4,1274.2 L473.9,1274.1 L474.4,1274.1 L474.9,1274.1 L475.4,1274.1 L475.9,1274.1 L476.4,1274.1 L476.9,1274.1 L477.4,1274.1 L477.9,1274.1 L478.4,1274.1 L478.9,1274.1 L479.4,1274.1 L479.9,1274.1 L480.4,1274.1 L480.9,1274.1 L481.4,1274.1 L481.9,1274.1 L482.4,1274.1 L482.9,1274.1 L483.4,1274.1 L483.9,1274.1 L484.4,1274.1 L484.9,1274.1 L485.4,1274.1 L485.9,1274.1 L486.4,1274.1 L486.9,1274.1 L487.4,1274.1 L487.9,1274.1 L488.4,1274.1 L488.9,1274.1 L489.4,1274.1 L489.9,1274.1 L490.4,1274.1 L490.9,1274.1 L491.4,1274.1 L491.9,1274.1 L492.4,1274.1 L492.9,1274.1 L493.4,1274.1 L493.9,1274.1 L494.4,1274.1 L494.9,1274.1 L495.4,1274.1 L495.9,1274.1 L496.4,1274.1 L496.9,1274.1 L497.4,1274.1 L497.9,1274.1 L498.4,1274.1 L498.9,1274.1 L499.4,1274.1 L499.9,1274.1 L500.4,1274.1 L500.9,1274.1 L501.4,1274.1 L501.9,1274.1 L502.4,1274.1 L502.9,1274.1 L503.4,1274.1 L503.9,1274.1 L504.4,1274.1 L504.9,1274.1 L505.4,1274.1 L505.9,1274.1 L506.4,1274.1 L506.9,1274.1 L507.4,1274.1 L507.9,1274.1 L508.4,1274.1 L508.9,1274.1 L509.4,1274.1 L509.9,1274.1 L510.4,1274.1 L510.9,1274.1 L511.4,1274.1 L511.9,1274.1 L512.4,1274.1 L512.9,1274.1 L513.4,1274.1 L513.9,1274.1 L514.4,1274.1 L514.9,1274.1 L515.4,1274.1 L515.9,1274.1 L516.4,1274.1 L516.9,1274.1 L517.4,1274.1 L517.9,1274.1 L518.4,1274.1 L518.9,1274.1 L519.4,1274.1 L519.9,1274.1 L520.4,1274.1 L520.9,1274.1 L521.4,1274.1 L521.9,1274.1 L522.4,1274.1 L522.9,1274.1 L523.4,1274.1 L523.9,1274.1 L524.4,1274.1 L524.9,1274.1 L525.4,1274.1 L525.9,1274.1 L526.4,1274.1 L526.9,1274.1 L527.4,1274.1 L527.9,1274.1 L528.4,1274.0 L528.9,1274.0 L529.4,1274.0 L529.9,1274.0 L530.4,1274.0 L530.9,1274.0 L531.4,1274.0 L531.9,1274.0 L532.4,1274.0 L532.9,1274.0 L533.4,1274.0 L533.9,1274.0 L534.4,1274.0 L534.9,1274.0 L535.4,1274.0 L535.9,1274.0 L536.4,1274.0 L536.9,1274.0 L537.4,1274.0 L537.9,1274.0 L538.4,1274.0 L538.9,1274.0 L539.4,1274.0 L539.9,1274.0 L540.4,1274.0 L540.9,1274.0 L541.4,1274.0 L541.9,1274.0 L542.4,1274.0 L542.9,1274.0 L543.4,1274.0 L543.9,1274.0 L544.4,1274.0 L544.9,1274.0 L545.4,1274.0 L545.9,1274.0 L546.4,1274.0 L546.9,1274.0 L547.4,1274.0 L547.9,1273.9 L548.4,1273.9 L548.9,1273.9 L549.4,1273.9 L549.9,1273.9 L550.4,1273.9 L550.9,1273.9 L551.4,1273.9 L551.9,1273.9 L552.4,1273.9 L552.9,1273.9 L553.4,1273.9 L553.9,1273.9 L554.4,1273.9 L554.9,1273.9 L555.4,1273.9 L555.9,1273.9 L556.4,1273.9 L556.9,1273.9 L557.4,1273.9 L557.9,1273.9 L558.4,1273.9 L558.9,1273.8 L559.4,1273.8 L559.9,1273.8 L560.4,1273.8 L560.9,1273.8 L561.4,1273.8 L561.9,1273.8 L562.4,1273.8 L562.9,1273.8 L563.4,1273.8 L563.9,1273.8 L564.4,1273.8 L564.9,1273.8 L565.4,1273.8 L565.9,1273.7 L566.4,1273.7 L566.9,1273.7 L567.4,1273.7 L567.9,1273.7 L568.4,1273.7 L568.9,1273.7 L569.4,1273.7 L569.9,1273.7 L570.4,1273.7 L570.9,1273.7 L571.4,1273.6 L571.9,1273.6 L572.4,1273.6 L572.9,1273.6 L573.4,1273.6 L573.9,1273.6 L574.4,1273.6 L574.9,1273.5 L575.4,1273.5 L575.9,1273.5 L576.4,1273.5 L576.9,1273.5 L577.4,1273.5 L577.9,1273.5 L578.4,1273.4 L578.9,1273.4 L579.4,1273.4 L579.9,1273.4 L580.4,1273.3 L580.9,1273.3 L581.4,1273.3 L581.9,1273.3 L582.4,1273.2 L582.9,1273.2 L583.4,1273.2 L583.9,1273.2 L584.4,1273.1 L584.9,1273.1 L585.4,1273.1 L585.9,1273.0 L586.4,1273.0 L586.9,1272.9 L587.4,1272.9 L587.9,1272.8 L588.4,1272.8 L588.9,1272.7 L589.4,1272.7 L589.9,1272.6 L590.4,1272.6 L590.9,1272.5 L591.4,1272.4 L591.9,1272.3 L592.4,1272.2 L592.9,1272.1 L593.4,1272.0 L593.9,1271.9 L594.4,1271.8 L594.9,1271.7 L595.4,1271.5 L595.9,1271.3 L596.4,1271.2 L596.9,1270.9 L597.4,1270.7 L597.9,1270.4 L598.4,1270.1 L598.9,1269.7 L599.4,1269.3 L599.9,1268.7 L600.4,1268.0 L600.9,1266.9 L601.4,1265.5 L601.9,1263.5 L602.4,1260.7 L602.9,1256.7 L603.4,1251.5 L603.9,1244.6 L604.4,1236.1 L604.9,1226.1 L605.4,1214.8 L605.9,1202.9 L606.4,1191.6 L606.9,1182.2 L607.4,1176.3 L607.9,1175.3 L608.4,1179.2 L608.9,1187.2 L609.4,1197.8 L609.9,1209.4 L610.4,1220.8 L610.9,1231.2 L611.4,1240.1 L611.9,1247.4 L612.4,1253.0 L612.9,1257.2 L613.4,1260.2 L613.9,1262.2 L614.4,1263.5 L614.9,1264.4 L615.4,1264.9 L615.9,1265.2 L616.4,1265.3 L616.9,1265.2 L617.4,1265.1 L617.9,1264.8 L618.4,1264.4 L618.9,1264.0 L619.4,1263.3 L619.9,1262.5 L620.4,1261.5 L620.9,1260.1 L621.4,1258.2 L621.9,1255.6 L622.4,1252.1 L622.9,1247.2 L623.4,1240.5 L623.9,1231.5 L624.4,1219.6 L624.9,1204.6 L625.4,1186.1 L625.9,1164.2 L626.4,1139.2 L626.9,1112.2 L627.4,1084.7 L627.9,1058.6 L628.4,1036.9 L628.9,1022.6 L629.4,1018.1 L629.9,1024.3 L630.4,1040.0 L630.9,1062.6 L631.4,1089.1 L631.9,1116.8 L632.4,1143.5 L632.9,1168.1 L633.4,1189.5 L633.9,1207.5 L634.4,1222.1 L634.9,1233.5 L635.4,1242.1 L635.9,1248.6 L636.4,1253.3 L636.9,1256.8 L637.4,1259.3 L637.9,1261.2 L638.4,1262.6 L638.9,1263.7 L639.4,1264.6 L639.9,1265.4 L640.4,1266.0 L640.9,1266.5 L641.4,1267.0 L641.9,1267.4 L642.4,1267.8 L642.9,1268.1 L643.4,1268.4 L643.9,1268.7 L644.4,1268.9 L644.9,1269.1 L645.4,1269.3 L645.9,1269.5 L646.4,1269.6 L646.9,1269.7 L647.4,1269.9 L647.9,1270.0 L648.4,1270.0 L648.9,1270.1 L649.4,1270.2 L649.9,1270.2 L650.4,1270.2 L650.9,1270.3 L651.4,1270.3 L651.9,1270.3 L652.4,1270.3 L652.9,1270.3 L653.4,1270.2 L653.9,1270.2 L654.4,1270.2 L654.9,1270.1 L655.4,1270.0 L655.9,1269.9 L656.4,1269.8 L656.9,1269.7 L657.4,1269.6 L657.9,1269.5 L658.4,1269.3 L658.9,1269.1 L659.4,1268.9 L659.9,1268.7 L660.4,1268.4 L660.9,1268.1 L661.4,1267.8 L661.9,1267.4 L662.4,1267.0 L662.9,1266.6 L663.4,1266.0 L663.9,1265.4 L664.4,1264.7 L664.9,1263.8 L665.4,1262.7 L665.9,1261.3 L666.4,1259.5 L666.9,1257.1 L667.4,1253.8 L667.9,1249.2 L668.4,1243.1 L668.9,1234.8 L669.4,1224.0 L669.9,1210.3 L670.4,1193.4 L670.9,1173.3 L671.4,1150.5 L671.9,1125.6 L672.4,1100.1 L672.9,1075.9 L673.4,1055.5 L673.9,1041.6 L674.4,1036.7 L674.9,1041.5 L675.4,1055.1 L675.9,1075.2 L676.4,1098.9 L676.9,1123.7 L677.4,1147.7 L677.9,1169.4 L678.4,1188.0 L678.9,1202.8 L679.4,1213.7 L679.9,1220.6 L680.4,1223.5 L680.9,1222.6 L681.4,1218.0 L681.9,1210.1 L682.4,1199.3 L682.9,1186.3 L683.4,1172.4 L683.9,1159.0 L684.4,1148.1 L684.9,1141.8 L685.4,1141.8 L685.9,1148.2 L686.4,1159.6 L686.9,1174.1 L687.4,1189.8 L687.9,1205.0 L688.4,1218.8 L688.9,1230.7 L689.4,1240.3 L689.9,1247.9 L690.4,1253.6 L690.9,1257.8 L691.4,1260.8 L691.9,1262.9 L692.4,1264.5 L692.9,1265.6 L693.4,1266.5 L693.9,1267.2 L694.4,1267.7 L694.9,1268.2 L695.4,1268.6 L695.9,1269.0 L696.4,1269.3 L696.9,1269.6 L697.4,1269.9 L697.9,1270.1 L698.4,1270.3 L698.9,1270.5 L699.4,1270.7 L699.9,1270.9 L700.4,1271.0 L700.9,1271.1 L701.4,1271.3 L701.9,1271.4 L702.4,1271.5 L702.9,1271.6 L703.4,1271.7 L703.9,1271.8 L704.4,1271.9 L704.9,1271.9 L705.4,1272.0 L705.9,1272.1 L706.4,1272.1 L706.9,1272.2 L707.4,1272.2 L707.9,1272.3 L708.4,1272.3 L708.9,1272.4 L709.4,1272.4 L709.9,1272.4 L710.4,1272.5 L710.9,1272.5 L711.4,1272.5 L711.9,1272.6 L712.4,1272.6 L712.9,1272.6 L713.4,1272.6 L713.9,1272.7 L714.4,1272.7 L714.9,1272.7 L715.4,1272.7 L715.9,1272.7 L716.4,1272.7 L716.9,1272.8 L717.4,1272.8 L717.9,1272.8 L718.4,1272.8 L718.9,1272.8 L719.4,1272.8 L719.9,1272.8 L720.4,1272.8 L720.9,1272.8 L721.4,1272.8 L721.9,1272.8 L722.4,1272.8 L722.9,1272.8 L723.4,1272.8 L723.9,1272.8 L724.4,1272.8 L724.9,1272.8 L725.4,1272.8 L725.9,1272.8 L726.4,1272.7 L726.9,1272.7 L727.4,1272.7 L727.9,1272.7 L728.4,1272.7 L728.9,1272.6 L729.4,1272.6 L729.9,1272.6 L730.4,1272.6 L730.9,1272.5 L731.4,1272.5 L731.9,1272.4 L732.4,1272.4 L732.9,1272.4 L733.4,1272.3 L733.9,1272.3 L734.4,1272.2 L734.9,1272.1 L735.4,1272.1 L735.9,1272.0 L736.4,1271.9 L736.9,1271.8 L737.4,1271.7 L737.9,1271.6 L738.4,1271.5 L738.9,1271.4 L739.4,1271.2 L739.9,1271.1 L740.4,1270.9 L740.9,1270.7 L741.4,1270.5 L741.9,1270.3 L742.4,1270.1 L742.9,1269.8 L743.4,1269.5 L743.9,1269.1 L744.4,1268.7 L744.9,1268.2 L745.4,1267.6 L745.9,1266.9 L746.4,1265.9 L746.9,1264.8 L747.4,1263.1 L747.9,1261.0 L748.4,1258.0 L748.9,1253.9 L749.4,1248.4 L749.9,1241.1 L750.4,1231.8 L750.9,1220.3 L751.4,1206.5 L751.9,1190.6 L752.4,1173.2 L752.9,1155.1 L753.4,1137.6 L753.9,1122.4 L754.4,1111.5 L754.9,1106.7 L755.4,1108.9 L755.9,1117.7 L756.4,1131.4 L756.9,1148.3 L757.4,1166.3 L757.9,1184.1 L758.4,1200.6 L758.9,1215.2 L759.4,1227.6 L759.9,1237.7 L760.4,1245.7 L760.9,1251.8 L761.4,1256.4 L761.9,1259.8 L762.4,1262.2 L762.9,1264.0 L763.4,1265.3 L763.9,1266.3 L764.4,1267.1 L764.9,1267.7 L765.4,1268.2 L765.9,1268.6 L766.4,1269.0 L766.9,1269.3 L767.4,1269.6 L767.9,1269.8 L768.4,1270.0 L768.9,1270.2 L769.4,1270.4 L769.9,1270.5 L770.4,1270.6 L770.9,1270.7 L771.4,1270.8 L771.9,1270.9 L772.4,1270.9 L772.9,1271.0 L773.4,1271.0 L773.9,1271.0 L774.4,1271.0 L774.9,1270.9 L775.4,1270.9 L775.9,1270.8 L776.4,1270.8 L776.9,1270.7 L777.4,1270.5 L777.9,1270.3 L778.4,1270.1 L778.9,1269.8 L779.4,1269.4 L779.9,1268.8 L780.4,1268.0 L780.9,1266.8 L781.4,1265.2 L781.9,1262.8 L782.4,1259.5 L782.9,1255.2 L783.4,1249.8 L783.9,1243.1 L784.4,1235.5 L784.9,1227.2 L785.4,1219.0 L785.9,1211.6 L786.4,1206.3 L786.9,1204.0 L787.4,1205.4 L787.9,1210.0 L788.4,1217.0 L788.9,1225.1 L789.4,1233.5 L789.9,1241.3 L790.4,1248.3 L790.9,1254.1 L791.4,1258.7 L791.9,1262.2 L792.4,1264.8 L792.9,1266.7 L793.4,1268.0 L793.9,1268.9 L794.4,1269.6 L794.9,1270.0 L795.4,1270.4 L795.9,1270.7 L796.4,1270.9 L796.9,1271.1 L797.4,1271.2 L797.9,1271.4 L798.4,1271.5 L798.9,1271.6 L799.4,1271.6 L799.9,1271.7 L800.4,1271.8 L800.9,1271.8 L801.4,1271.9 L801.9,1271.9 L802.4,1271.9 L802.9,1271.9 L803.4,1272.0 L803.9,1272.0 L804.4,1272.0 L804.9,1272.0 L805.4,1272.0 L805.9,1272.0 L806.4,1271.9 L806.9,1271.9 L807.4,1271.9 L807.9,1271.9 L808.4,1271.8 L808.9,1271.8 L809.4,1271.8 L809.9,1271.7 L810.4,1271.7 L810.9,1271.6 L811.4,1271.6 L811.9,1271.5 L812.4,1271.4 L812.9,1271.3 L813.4,1271.3 L813.9,1271.2 L814.4,1271.1 L814.9,1271.0 L815.4,1270.9 L815.9,1270.7 L816.4,1270.6 L816.9,1270.5 L817.4,1270.3 L817.9,1270.1 L818.4,1269.9 L818.9,1269.7 L819.4,1269.5 L819.9,1269.3 L820.4,1269.0 L820.9,1268.7 L821.4,1268.4 L821.9,1268.1 L822.4,1267.7 L822.9,1267.3 L823.4,1266.8 L823.9,1266.3 L824.4,1265.8 L824.9,1265.1 L825.4,1264.4 L825.9,1263.5 L826.4,1262.5 L826.9,1261.4 L827.4,1259.9 L827.9,1258.1 L828.4,1255.7 L828.9,1252.6 L829.4,1248.4 L829.9,1242.7 L830.4,1235.2 L830.9,1225.2 L831.4,1212.3 L831.9,1196.0 L832.4,1175.9 L832.9,1151.8 L833.4,1124.0 L833.9,1093.1 L834.4,1060.1 L834.9,1026.8 L835.4,995.6 L835.9,969.3 L836.4,951.2 L836.9,944.0 L837.4,948.9 L837.9,965.0 L838.4,989.9 L838.9,1020.5 L839.4,1053.6 L839.9,1086.8 L840.4,1118.2 L840.9,1146.7 L841.4,1171.5 L841.9,1192.4 L842.4,1209.5 L842.9,1223.0 L843.4,1233.5 L843.9,1241.5 L844.4,1247.4 L844.9,1251.9 L845.4,1255.2 L845.9,1257.7 L846.4,1259.6 L846.9,1261.2 L847.4,1262.4 L847.9,1263.4 L848.4,1264.3 L848.9,1265.1 L849.4,1265.7 L849.9,1266.3 L850.4,1266.8 L850.9,1267.3 L851.4,1267.8 L851.9,1268.1 L852.4,1268.5 L852.9,1268.8 L853.4,1269.1 L853.9,1269.4 L854.4,1269.6 L854.9,1269.9 L855.4,1270.1 L855.9,1270.3 L856.4,1270.4 L856.9,1270.6 L857.4,1270.8 L857.9,1270.9 L858.4,1271.0 L858.9,1271.2 L859.4,1271.3 L859.9,1271.4 L860.4,1271.5 L860.9,1271.6 L861.4,1271.7 L861.9,1271.8 L862.4,1271.8 L862.9,1271.9 L863.4,1272.0 L863.9,1272.0 L864.4,1272.1 L864.9,1272.1 L865.4,1272.2 L865.9,1272.2 L866.4,1272.3 L866.9,1272.3 L867.4,1272.4 L867.9,1272.4 L868.4,1272.4 L868.9,1272.5 L869.4,1272.5 L869.9,1272.5 L870.4,1272.6 L870.9,1272.6 L871.4,1272.6 L871.9,1272.6 L872.4,1272.6 L872.9,1272.6 L873.4,1272.6 L873.9,1272.6 L874.4,1272.6 L874.9,1272.6 L875.4,1272.6 L875.9,1272.6 L876.4,1272.6 L876.9,1272.5 L877.4,1272.5 L877.9,1272.4 L878.4,1272.3 L878.9,1272.1 L879.4,1271.9 L879.9,1271.6 L880.4,1271.2 L880.9,1270.6 L881.4,1269.9 L881.9,1269.1 L882.4,1268.2 L882.9,1267.3 L883.4,1266.4 L883.9,1265.7 L884.4,1265.3 L884.9,1265.2 L885.4,1265.6 L885.9,1266.2 L886.4,1267.0 L886.9,1267.8 L887.4,1268.7 L887.9,1269.4 L888.4,1270.0 L888.9,1270.5 L889.4,1270.8 L889.9,1271.1 L890.4,1271.2 L890.9,1271.2 L891.4,1271.2 L891.9,1271.1 L892.4,1271.0 L892.9,1270.9 L893.4,1270.7 L893.9,1270.4 L894.4,1270.1 L894.9,1269.7 L895.4,1269.2 L895.9,1268.5 L896.4,1267.6 L896.9,1266.3 L897.4,1264.4 L897.9,1261.8 L898.4,1258.3 L898.9,1253.4 L899.4,1247.2 L899.9,1239.3 L900.4,1229.9 L900.9,1219.0 L901.4,1207.3 L901.9,1195.5 L902.4,1184.7 L902.9,1176.5 L903.4,1172.2 L903.9,1172.8 L904.4,1178.1 L904.9,1187.1 L905.4,1198.2 L905.9,1210.1 L906.4,1221.7 L906.9,1232.2 L907.4,1241.4 L907.9,1248.9 L908.4,1254.8 L908.9,1259.4 L909.4,1262.7 L909.9,1265.1 L910.4,1266.8 L910.9,1268.1 L911.4,1269.0 L911.9,1269.6 L912.4,1270.1 L912.9,1270.5 L913.4,1270.9 L913.9,1271.2 L914.4,1271.4 L914.9,1271.6 L915.4,1271.8 L915.9,1272.0 L916.4,1272.1 L916.9,1272.2 L917.4,1272.4 L917.9,1272.5 L918.4,1272.6 L918.9,1272.7 L919.4,1272.7 L919.9,1272.8 L920.4,1272.9 L920.9,1273.0 L921.4,1273.0 L921.9,1273.1 L922.4,1273.1 L922.9,1273.2 L923.4,1273.2 L923.9,1273.2 L924.4,1273.3 L924.9,1273.3 L925.4,1273.4 L925.9,1273.4 L926.4,1273.4 L926.9,1273.4 L927.4,1273.5 L927.9,1273.5 L928.4,1273.5 L928.9,1273.5 L929.4,1273.6 L929.9,1273.6 L930.4,1273.6 L930.9,1273.6 L931.4,1273.6 L931.9,1273.6 L932.4,1273.7 L932.9,1273.7 L933.4,1273.7 L933.9,1273.7 L934.4,1273.7 L934.9,1273.7 L935.4,1273.7 L935.9,1273.7 L936.4,1273.8 L936.9,1273.8 L937.4,1273.8 L937.9,1273.8 L938.4,1273.8 L938.9,1273.8 L939.4,1273.8 L939.9,1273.8 L940.4,1273.8 L940.9,1273.8 L941.4,1273.8 L941.9,1273.8 L942.4,1273.8 L942.9,1273.9 L943.4,1273.9 L943.9,1273.9 L944.4,1273.9 L944.9,1273.9 L945.4,1273.9 L945.9,1273.9 L946.4,1273.9 L946.9,1273.9 L947.4,1273.9 L947.9,1273.9 L948.4,1273.9 L948.9,1273.9 L949.4,1273.9 L949.9,1273.9 L950.4,1273.9 L950.9,1273.9 L951.4,1273.9 L951.9,1273.9 L952.4,1273.9 L952.9,1273.9 L953.4,1273.9 L953.9,1273.9 L954.4,1273.9 L954.9,1273.9 L955.4,1273.9 L955.9,1273.9 L956.4,1274.0 L956.9,1274.0 L957.4,1274.0 L957.9,1274.0 L958.4,1274.0 L958.9,1274.0 L959.4,1274.0 L959.9,1274.0 L960.4,1274.0 L960.9,1274.0 L961.4,1274.0 L961.9,1274.0 L962.4,1274.0 L962.9,1274.0 L963.4,1274.0 L963.9,1274.0 L964.4,1274.0 L964.9,1274.0 L965.4,1274.0 L965.9,1274.0 L966.4,1274.0 L966.9,1274.0 L967.4,1273.9 L967.9,1273.9 L968.4,1273.9 L968.9,1273.9 L969.4,1273.9 L969.9,1273.9 L970.4,1273.9 L970.9,1273.9 L971.4,1273.9 L971.9,1273.9 L972.4,1273.9 L972.9,1273.9 L973.4,1273.9 L973.9,1273.9 L974.4,1273.9 L974.9,1273.9 L975.4,1273.9 L975.9,1273.9 L976.4,1273.8 L976.9,1273.8 L977.4,1273.8 L977.9,1273.8 L978.4,1273.8 L978.9,1273.8 L979.4,1273.7 L979.9,1273.7 L980.4,1273.7 L980.9,1273.7 L981.4,1273.6 L981.9,1273.6 L982.4,1273.5 L982.9,1273.5 L983.4,1273.4 L983.9,1273.4 L984.4,1273.3 L984.9,1273.2 L985.4,1273.0 L985.9,1272.9 L986.4,1272.6 L986.9,1272.3 L987.4,1271.8 L987.9,1271.1 L988.4,1270.2 L988.9,1268.9 L989.4,1267.3 L989.9,1265.2 L990.4,1262.8 L990.9,1260.1 L991.4,1257.4 L991.9,1254.7 L992.4,1252.5 L992.9,1251.3 L993.4,1251.1 L993.9,1252.2 L994.4,1254.2 L994.9,1256.7 L995.4,1259.5 L995.9,1262.2 L996.4,1264.7 L996.9,1266.8 L997.4,1268.5 L997.9,1269.9 L998.4,1270.9 L998.9,1271.6 L999.4,1272.1 L999.9,1272.5 L1000.4,1272.7 L1000.9,1272.9 L1001.4,1273.0 L1001.9,1273.1 L1002.4,1273.2 L1002.9,1273.2 L1003.4,1273.2 L1003.9,1273.3 L1004.4,1273.3 L1004.9,1273.3 L1005.4,1273.3 L1005.9,1273.3 L1006.4,1273.3 L1006.9,1273.2 L1007.4,1273.2 L1007.9,1273.1 L1008.4,1273.0 L1008.9,1272.8 L1009.4,1272.6 L1009.9,1272.2 L1010.4,1271.7 L1010.9,1271.0 L1011.4,1270.1 L1011.9,1268.9 L1012.4,1267.3 L1012.9,1265.5 L1013.4,1263.5 L1013.9,1261.4 L1014.4,1259.4 L1014.9,1257.7 L1015.4,1256.7 L1015.9,1256.6 L1016.4,1257.4 L1016.9,1258.9 L1017.4,1260.8 L1017.9,1263.0 L1018.4,1265.0 L1018.9,1266.9 L1019.4,1268.6 L1019.9,1269.9 L1020.4,1270.9 L1020.9,1271.7 L1021.4,1272.3 L1021.9,1272.7 L1022.4,1273.0 L1022.9,1273.2 L1023.4,1273.3 L1023.9,1273.4 L1024.4,1273.5 L1024.9,1273.6 L1025.4,1273.6 L1025.9,1273.7 L1026.4,1273.7 L1026.9,1273.7 L1027.4,1273.8 L1027.9,1273.8 L1028.4,1273.8 L1028.9,1273.8 L1029.4,1273.9 L1029.9,1273.9 L1030.4,1273.9 L1030.9,1273.9 L1031.4,1273.9 L1031.9,1273.9 L1032.4,1274.0 L1032.9,1274.0 L1033.4,1274.0 L1033.9,1274.0 L1034.4,1274.0 L1034.9,1274.0 L1035.4,1274.0 L1035.9,1274.0 L1036.4,1274.0 L1036.9,1274.0 L1037.4,1274.0 L1037.9,1274.0 L1038.4,1274.1 L1038.9,1274.1 L1039.4,1274.1 L1039.9,1274.1 L1040.4,1274.1 L1040.9,1274.1 L1041.4,1274.1 L1041.9,1274.1 L1042.4,1274.1 L1042.9,1274.1 L1043.4,1274.1 L1043.9,1274.1 L1044.4,1274.1 L1044.9,1274.1 L1045.4,1274.1 L1045.9,1274.1 L1046.4,1274.1 L1046.9,1274.1 L1047.4,1274.1 L1047.9,1274.1 L1048.4,1274.1 L1048.9,1274.1 L1049.4,1274.1 L1049.9,1274.1 L1050.4,1274.1 L1050.9,1274.1 L1051.4,1274.1 L1051.9,1274.1 L1052.4,1274.1 L1052.9,1274.1 L1053.4,1274.1 L1053.9,1274.1 L1054.4,1274.1 L1054.9,1274.1 L1055.4,1274.1 L1055.9,1274.1 L1056.4,1274.1 L1056.9,1274.1 L1057.4,1274.1 L1057.9,1274.1 L1058.4,1274.1 L1058.9,1274.1 L1059.4,1274.1 L1059.9,1274.1 L1060.4,1274.1 L1060.9,1274.1 L1061.4,1274.1 L1061.9,1274.2 L1062.4,1274.2 L1062.9,1274.2 L1063.4,1274.2 L1063.9,1274.2 L1064.4,1274.2 L1064.9,1274.2 L1065.4,1274.2 L1065.9,1274.2 L1066.4,1274.2 L1066.9,1274.2 L1067.4,1274.2 L1067.9,1274.2 L1068.4,1274.2 L1068.9,1274.2 L1069.4,1274.2 L1069.9,1274.2 L1070.4,1274.2 L1070.9,1274.2 L1071.4,1274.2 L1071.9,1274.2 L1072.4,1274.2 L1072.9,1274.2 L1073.4,1274.2 L1073.9,1274.2 L1074.4,1274.2 L1074.9,1274.2 L1075.4,1274.2 L1075.9,1274.2 L1076.4,1274.2 L1076.9,1274.2 L1077.4,1274.2 L1077.9,1274.2 L1078.4,1274.2 L1078.9,1274.2 L1079.4,1274.2 L1079.9,1274.2 L1080.4,1274.2 L1080.9,1274.2 L1081.4,1274.2 L1081.9,1274.2 L1082.4,1274.2 L1082.9,1274.2 L1083.4,1274.2 L1083.9,1274.2 L1084.4,1274.2 L1084.9,1274.2 L1085.4,1274.2 L1085.9,1274.2 L1086.4,1274.2 L1086.9,1274.2 L1087.4,1274.2 L1087.9,1274.2 L1088.4,1274.2 L1088.9,1274.2 L1089.4,1274.2 L1089.9,1274.2 L1090.4,1274.2 L1090.9,1274.2 L1091.4,1274.2 L1091.9,1274.2 L1092.4,1274.2 L1092.9,1274.2 L1093.4,1274.2 L1093.9,1274.2 L1094.4,1274.2 L1094.9,1274.2 L1095.4,1274.2 L1095.9,1274.2 L1096.4,1274.2 L1096.9,1274.2 L1097.4,1274.2 L1097.9,1274.2 L1098.4,1274.2 L1098.9,1274.2 L1099.4,1274.2 L1099.9,1274.2 L1100.4,1274.2 L1100.9,1274.2 L1101.4,1274.2 L1101.9,1274.2 L1102.4,1274.2 L1102.9,1274.2 L1103.4,1274.2 L1103.9,1274.2 L1104.4,1274.2 L1104.9,1274.2 L1105.4,1274.2 L1105.9,1274.2 L1106.4,1274.2 L1106.9,1274.2 L1107.4,1274.2 L1107.9,1274.2 L1108.4,1274.2 L1108.9,1274.1 L1109.4,1274.1 L1109.9,1274.1 L1110.4,1274.1 L1110.9,1274.1 L1111.4,1274.1 L1111.9,1274.1 L1112.4,1274.1 L1112.9,1274.1 L1113.4,1274.1 L1113.9,1274.1 L1114.4,1274.1 L1114.9,1274.1 L1115.4,1274.1 L1115.9,1274.1 L1116.4,1274.1 L1116.9,1274.1 L1117.4,1274.1 L1117.9,1274.1 L1118.4,1274.1 L1118.9,1274.1 L1119.4,1274.1 L1119.9,1274.1 L1120.4,1274.1 L1120.9,1274.1 L1121.4,1274.1 L1121.9,1274.1 L1122.4,1274.1 L1122.9,1274.1 L1123.4,1274.1 L1123.9,1274.1 L1124.4,1274.1 L1124.9,1274.1 L1125.4,1274.0 L1125.9,1274.0 L1126.4,1274.0 L1126.9,1274.0 L1127.4,1274.0 L1127.9,1274.0 L1128.4,1273.9 L1128.9,1273.9 L1129.4,1273.8 L1129.9,1273.8 L1130.4,1273.7 L1130.9,1273.5 L1131.4,1273.3 L1131.9,1272.9 L1132.4,1272.5 L1132.9,1272.0 L1133.4,1271.4 L1133.9,1270.8 L1134.4,1270.3 L1134.9,1269.8 L1135.4,1269.6 L1135.9,1269.7 L1136.4,1270.1 L1136.9,1270.6 L1137.4,1271.2 L1137.9,1271.8 L1138.4,1272.3 L1138.9,1272.8 L1139.4,1273.1 L1139.9,1273.4 L1140.4,1273.6 L1140.9,1273.7 L1141.4,1273.8 L1141.9,1273.8 L1142.4,1273.9 L1142.9,1273.9 L1143.4,1273.9 L1143.9,1273.9 L1144.4,1273.9 L1144.9,1274.0 L1145.4,1274.0 L1145.9,1274.0 L1146.4,1274.0 L1146.9,1274.0 L1147.4,1274.0 L1147.9,1274.0 L1148.4,1274.0 L1148.9,1274.0 L1149.4,1274.0 L1149.9,1274.0 L1150.4,1274.0 L1150.9,1274.0 L1151.4,1274.0 L1151.9,1274.0 L1152.4,1274.0 L1152.9,1273.9 L1153.4,1273.9 L1153.9,1273.9 L1154.4,1273.9 L1154.9,1273.9 L1155.4,1273.9 L1155.9,1273.9 L1156.4,1273.9 L1156.9,1273.9 L1157.4,1273.9 L1157.9,1273.9 L1158.4,1273.9 L1158.9,1273.8 L1159.4,1273.8 L1159.9,1273.8 L1160.4,1273.8 L1160.9,1273.8 L1161.4,1273.8 L1161.9,1273.7 L1162.4,1273.7 L1162.9,1273.7 L1163.4,1273.7 L1163.9,1273.6 L1164.4,1273.6 L1164.9,1273.6 L1165.4,1273.6 L1165.9,1273.5 L1166.4,1273.5 L1166.9,1273.4 L1167.4,1273.4 L1167.9,1273.3 L1168.4,1273.3 L1168.9,1273.2 L1169.4,1273.1 L1169.9,1273.1 L1170.4,1273.0 L1170.9,1272.9 L1171.4,1272.7 L1171.9,1272.6 L1172.4,1272.5 L1172.9,1272.3 L1173.4,1272.0 L1173.9,1271.8 L1174.4,1271.4 L1174.9,1270.9 L1175.4,1270.2 L1175.9,1269.2 L1176.4,1267.9 L1176.9,1266.1 L1177.4,1263.6 L1177.9,1260.5 L1178.4,1256.6 L1178.9,1251.9 L1179.4,1246.4 L1179.9,1240.5 L1180.4,1234.4 L1180.9,1228.6 L1181.4,1223.7 L1181.9,1220.6 L1182.4,1219.7 L1182.9,1221.3 L1183.4,1225.0 L1183.9,1230.2 L1184.4,1236.1 L1184.9,1242.2 L1185.4,1248.1 L1185.9,1253.3 L1186.4,1257.8 L1186.9,1261.5 L1187.4,1264.4 L1187.9,1266.6 L1188.4,1268.3 L1188.9,1269.5 L1189.4,1270.4 L1189.9,1271.0 L1190.4,1271.5 L1190.9,1271.8 L1191.4,1272.1 L1191.9,1272.3 L1192.4,1272.5 L1192.9,1272.6 L1193.4,1272.8 L1193.9,1272.9 L1194.4,1273.0 L1194.9,1273.1 L1195.4,1273.1 L1195.9,1273.2 L1196.4,1273.3 L1196.9,1273.3 L1197.4,1273.4 L1197.9,1273.4 L1198.4,1273.5 L1198.9,1273.5 L1199.4,1273.5 L1199.9,1273.6 L1200.4,1273.6 L1200.9,1273.6 L1201.4,1273.7 L1201.9,1273.7 L1202.4,1273.7 L1202.9,1273.7 L1203.4,1273.7 L1203.9,1273.8 L1204.4,1273.8 L1204.9,1273.8 L1205.4,1273.8 L1205.9,1273.8 L1206.4,1273.8 L1206.9,1273.8 L1207.4,1273.8 L1207.9,1273.9 L1208.4,1273.9 L1208.9,1273.9 L1209.4,1273.9 L1209.9,1273.9 L1210.4,1273.9 L1210.9,1273.9 L1211.4,1273.9 L1211.9,1273.9 L1212.4,1273.9 L1212.9,1273.9 L1213.4,1273.9 L1213.9,1273.9 L1214.4,1273.9 L1214.9,1273.9 L1215.4,1273.9 L1215.9,1274.0 L1216.4,1274.0 L1216.9,1274.0 L1217.4,1274.0 L1217.9,1274.0 L1218.4,1274.0 L1218.9,1274.0 L1219.4,1274.0 L1219.9,1274.0 L1220.4,1274.0 L1220.9,1274.0 L1221.4,1274.0 L1221.9,1274.0 L1222.4,1274.0 L1222.9,1274.0 L1223.4,1274.0 L1223.9,1274.0 L1224.4,1274.0 L1224.9,1274.0 L1225.4,1274.0 L1225.9,1274.0 L1226.4,1274.0 L1226.9,1274.0 L1227.4,1274.0 L1227.9,1274.0 L1228.4,1274.0 L1228.9,1274.0 L1229.4,1274.0 L1229.9,1274.0 L1230.4,1274.0 L1230.9,1274.0 L1231.4,1274.0 L1231.9,1274.0 L1232.4,1274.0 L1232.9,1274.0 L1233.4,1274.0 L1233.9,1274.0 L1234.4,1274.0 L1234.9,1274.0 L1235.4,1274.0 L1235.9,1274.0 L1236.4,1274.0 L1236.9,1274.0 L1237.4,1274.0 L1237.9,1274.0 L1238.4,1274.0 L1238.9,1274.0 L1239.4,1274.0 L1239.9,1274.0 L1240.4,1273.9 L1240.9,1273.9 L1241.4,1273.9 L1241.9,1273.9 L1242.4,1273.9 L1242.9,1273.9 L1243.4,1273.9 L1243.9,1273.9 L1244.4,1273.9 L1244.9,1273.9 L1245.4,1273.9 L1245.9,1273.9 L1246.4,1273.9 L1246.9,1273.9 L1247.4,1273.9 L1247.9,1273.9 L1248.4,1273.9 L1248.9,1273.9 L1249.4,1273.9 L1249.9,1273.9 L1250.4,1273.9 L1250.9,1273.9 L1251.4,1273.9 L1251.9,1273.9 L1252.4,1273.8 L1252.9,1273.8 L1253.4,1273.8 L1253.9,1273.8 L1254.4,1273.8 L1254.9,1273.8 L1255.4,1273.8 L1255.9,1273.8 L1256.4,1273.8 L1256.9,1273.8 L1257.4,1273.8 L1257.9,1273.8 L1258.4,1273.8 L1258.9,1273.7 L1259.4,1273.7 L1259.9,1273.7 L1260.4,1273.7 L1260.9,1273.7 L1261.4,1273.7 L1261.9,1273.7 L1262.4,1273.7 L1262.9,1273.6 L1263.4,1273.6 L1263.9,1273.6 L1264.4,1273.6 L1264.9,1273.6 L1265.4,1273.6 L1265.9,1273.5 L1266.4,1273.5 L1266.9,1273.5 L1267.4,1273.5 L1267.9,1273.5 L1268.4,1273.4 L1268.9,1273.4 L1269.4,1273.4 L1269.9,1273.4 L1270.4,1273.3 L1270.9,1273.3 L1271.4,1273.3 L1271.9,1273.2 L1272.4,1273.2 L1272.9,1273.1 L1273.4,1273.1 L1273.9,1273.0 L1274.4,1273.0 L1274.9,1272.9 L1275.4,1272.9 L1275.9,1272.8 L1276.4,1272.7 L1276.9,1272.6 L1277.4,1272.5 L1277.9,1272.4 L1278.4,1272.3 L1278.9,1272.2 L1279.4,1272.1 L1279.9,1271.9 L1280.4,1271.7 L1280.9,1271.5 L1281.4,1271.2 L1281.9,1270.9 L1282.4,1270.6 L1282.9,1270.1 L1283.4,1269.4 L1283.9,1268.4 L1284.4,1266.9 L1284.9,1264.7 L1285.4,1261.4 L1285.9,1256.8 L1286.4,1250.7 L1286.9,1243.2 L1287.4,1234.7 L1287.9,1225.9 L1288.4,1218.3 L1288.9,1213.3 L1289.4,1211.8 L1289.9,1213.2 L1290.4,1215.8 L1290.9,1217.9 L1291.4,1218.5 L1291.9,1217.4 L1292.4,1215.4 L1292.9,1214.1 L1293.4,1215.0 L1293.9,1219.0 L1294.4,1225.4 L1294.9,1232.7 L1295.4,1239.7 L1295.9,1245.2 L1296.4,1248.6 L1296.9,1249.6 L1297.4,1248.1 L1297.9,1244.2 L1298.4,1238.5 L1298.9,1231.8 L1299.4,1225.4 L1299.9,1220.9 L1300.4,1219.8 L1300.9,1222.7 L1301.4,1228.6 L1301.9,1236.0 L1302.4,1243.5 L1302.9,1250.2 L1303.4,1255.6 L1303.9,1259.7 L1304.4,1262.5 L1304.9,1264.3 L1305.4,1265.2 L1305.9,1265.6 L1306.4,1265.5 L1306.9,1265.0 L1307.4,1264.0 L1307.9,1262.3 L1308.4,1259.9 L1308.9,1256.6 L1309.4,1252.1 L1309.9,1246.3 L1310.4,1239.1 L1310.9,1230.7 L1311.4,1221.4 L1311.9,1211.6 L1312.4,1202.3 L1312.9,1194.4 L1313.4,1189.3 L1313.9,1187.9 L1314.4,1190.6 L1314.9,1196.7 L1315.4,1205.2 L1315.9,1214.8 L1316.4,1224.5 L1316.9,1233.6 L1317.4,1241.6 L1317.9,1248.3 L1318.4,1253.6 L1318.9,1257.8 L1319.4,1260.8 L1319.9,1263.0 L1320.4,1264.5 L1320.9,1265.5 L1321.4,1266.2 L1321.9,1266.6 L1322.4,1266.8 L1322.9,1266.9 L1323.4,1266.9 L1323.9,1266.8 L1324.4,1266.5 L1324.9,1266.2 L1325.4,1265.6 L1325.9,1265.0 L1326.4,1264.0 L1326.9,1262.9 L1327.4,1261.4 L1327.9,1259.6 L1328.4,1257.3 L1328.9,1254.6 L1329.4,1251.3 L1329.9,1247.5 L1330.4,1243.0 L1330.9,1237.9 L1331.4,1232.2 L1331.9,1225.9 L1332.4,1219.2 L1332.9,1212.1 L1333.4,1204.8 L1333.9,1197.5 L1334.4,1190.6 L1334.9,1184.2 L1335.4,1178.9 L1335.9,1174.9 L1336.4,1172.6 L1336.9,1172.1 L1337.4,1173.5 L1337.9,1176.7 L1338.4,1181.4 L1338.9,1187.3 L1339.4,1194.1 L1339.9,1201.3 L1340.4,1208.6 L1340.9,1215.9 L1341.4,1222.9 L1341.9,1229.5 L1342.4,1235.6 L1342.9,1241.1 L1343.4,1245.9 L1343.9,1250.2 L1344.4,1253.8 L1344.9,1256.9 L1345.4,1259.5 L1345.9,1261.7 L1346.4,1263.4 L1346.9,1264.9 L1347.4,1266.1 L1347.9,1267.0 L1348.4,1267.8 L1348.9,1268.4 L1349.4,1268.9 L1349.9,1269.4 L1350.4,1269.7 L1350.9,1270.0 L1351.4,1270.3 L1351.9,1270.5 L1352.4,1270.7 L1352.9,1270.9 L1353.4,1271.1 L1353.9,1271.3 L1354.4,1271.4 L1354.9,1271.5 L1355.4,1271.7 L1355.9,1271.8 L1356.4,1271.9 L1356.9,1272.0 L1357.4,1272.1 L1357.9,1272.1 L1358.4,1272.2 L1358.9,1272.3 L1359.4,1272.4 L1359.9,1272.4 L1360.4,1272.5 L1360.9,1272.6 L1361.4,1272.6 L1361.9,1272.7 L1362.4,1272.7 L1362.9,1272.8 L1363.4,1272.8 L1363.9,1272.8 L1364.4,1272.9 L1364.9,1272.9 L1365.4,1272.9 L1365.9,1273.0 L1366.4,1273.0 L1366.9,1273.0 L1367.4,1273.1 L1367.9,1273.1 L1368.4,1273.1 L1368.9,1273.1 L1369.4,1273.2 L1369.9,1273.2 L1370.4,1273.2 L1370.9,1273.2 L1371.4,1273.2 L1371.9,1273.3 L1372.4,1273.3 L1372.9,1273.3 L1373.4,1273.3 L1373.9,1273.3 L1374.4,1273.3 L1374.9,1273.3 L1375.4,1273.4 L1375.9,1273.4 L1376.4,1273.4 L1376.9,1273.4 L1377.4,1273.4 L1377.9,1273.4 L1378.4,1273.4 L1378.9,1273.4 L1379.4,1273.4 L1379.9,1273.4 L1380.4,1273.4 L1380.9,1273.4 L1381.4,1273.5 L1381.9,1273.5 L1382.4,1273.5 L1382.9,1273.5 L1383.4,1273.5 L1383.9,1273.5 L1384.4,1273.5 L1384.9,1273.5 L1385.4,1273.5 L1385.9,1273.5 L1386.4,1273.5 L1386.9,1273.5 L1387.4,1273.5 L1387.9,1273.5 L1388.4,1273.5 L1388.9,1273.5 L1389.4,1273.5 L1389.9,1273.5 L1390.4,1273.4 L1390.9,1273.4 L1391.4,1273.4 L1391.9,1273.4 L1392.4,1273.4 L1392.9,1273.4 L1393.4,1273.4 L1393.9,1273.4 L1394.4,1273.4 L1394.9,1273.4 L1395.4,1273.3 L1395.9,1273.3 L1396.4,1273.3 L1396.9,1273.3 L1397.4,1273.3 L1397.9,1273.3 L1398.4,1273.2 L1398.9,1273.2 L1399.4,1273.2 L1399.9,1273.1 L1400.4,1273.1 L1400.9,1273.1 L1401.4,1273.0 L1401.9,1273.0 L1402.4,1272.9 L1402.9,1272.9 L1403.4,1272.8 L1403.9,1272.8 L1404.4,1272.7 L1404.9,1272.6 L1405.4,1272.5 L1405.9,1272.4 L1406.4,1272.3 L1406.9,1272.1 L1407.4,1272.0 L1407.9,1271.8 L1408.4,1271.5 L1408.9,1271.2 L1409.4,1270.7 L1409.9,1270.0 L1410.4,1269.1 L1410.9,1267.8 L1411.4,1265.9 L1411.9,1263.5 L1412.4,1260.3 L1412.9,1256.3 L1413.4,1251.5 L1413.9,1246.2 L1414.4,1240.6 L1414.9,1235.2 L1415.4,1230.7 L1415.9,1227.9 L1416.4,1227.4 L1416.9,1229.2 L1417.4,1233.0 L1417.9,1238.0 L1418.4,1243.5 L1418.9,1249.0 L1419.4,1254.0 L1419.9,1258.3 L1420.4,1261.8 L1420.9,1264.5 L1421.4,1266.5 L1421.9,1268.0 L1422.4,1269.0 L1422.9,1269.8 L1423.4,1270.2 L1423.9,1270.6 L1424.4,1270.8 L1424.9,1271.0 L1425.4,1271.1 L1425.9,1271.1 L1426.4,1271.2 L1426.9,1271.2 L1427.4,1271.2 L1427.9,1271.2 L1428.4,1271.1 L1428.9,1271.1 L1429.4,1271.0 L1429.9,1270.9 L1430.4,1270.8 L1430.9,1270.7 L1431.4,1270.6 L1431.9,1270.4 L1432.4,1270.2 L1432.9,1270.0 L1433.4,1269.7 L1433.9,1269.5 L1434.4,1269.1 L1434.9,1268.8 L1435.4,1268.3 L1435.9,1267.8 L1436.4,1267.2 L1436.9,1266.4 L1437.4,1265.5 L1437.9,1264.2 L1438.4,1262.5 L1438.9,1260.0 L1439.4,1256.5 L1439.9,1251.6 L1440.4,1244.8 L1440.9,1235.8 L1441.4,1224.2 L1441.9,1209.9 L1442.4,1193.2 L1442.9,1174.9 L1443.4,1156.1 L1443.9,1138.7 L1444.4,1124.8 L1444.9,1116.3 L1445.4,1113.5 L1445.9,1115.0 L1446.4,1118.2 L1446.9,1120.9 L1447.4,1121.9 L1447.9,1121.1 L1448.4,1120.0 L1448.9,1120.7 L1449.4,1125.7 L1449.9,1136.2 L1450.4,1151.5 L1450.9,1169.3 L1451.4,1187.7 L1451.9,1205.0 L1452.4,1220.2 L1452.9,1232.8 L1453.4,1242.7 L1453.9,1250.1 L1454.4,1255.5 L1454.9,1259.3 L1455.4,1262.0 L1455.9,1263.9 L1456.4,1265.2 L1456.9,1266.2 L1457.4,1267.0 L1457.9,1267.6 L1458.4,1268.1 L1458.9,1268.6 L1459.4,1269.0 L1459.9,1269.3 L1460.4,1269.6 L1460.9,1269.8 L1461.4,1270.1 L1461.9,1270.3 L1462.4,1270.4 L1462.9,1270.6 L1463.4,1270.7 L1463.9,1270.8 L1464.4,1270.9 L1464.9,1271.0 L1465.4,1271.1 L1465.9,1271.1 L1466.4,1271.2 L1466.9,1271.2 L1467.4,1271.2 L1467.9,1271.2 L1468.4,1271.2 L1468.9,1271.2 L1469.4,1271.2 L1469.9,1271.2 L1470.4,1271.1 L1470.9,1271.1 L1471.4,1271.0 L1471.9,1270.9 L1472.4,1270.8 L1472.9,1270.7 L1473.4,1270.6 L1473.9,1270.4 L1474.4,1270.3 L1474.9,1270.1 L1475.4,1269.8 L1475.9,1269.6 L1476.4,1269.3 L1476.9,1268.9 L1477.4,1268.4 L1477.9,1267.9 L1478.4,1267.2 L1478.9,1266.3 L1479.4,1265.1 L1479.9,1263.5 L1480.4,1261.2 L1480.9,1258.1 L1481.4,1253.9 L1481.9,1248.3 L1482.4,1241.1 L1482.9,1232.0 L1483.4,1221.0 L1483.9,1208.1 L1484.4,1193.6 L1484.9,1178.3 L1485.4,1163.1 L1485.9,1149.2 L1486.4,1138.3 L1486.9,1132.2 L1487.4,1131.8 L1487.9,1137.3 L1488.4,1147.6 L1488.9,1161.2 L1489.4,1176.4 L1489.9,1191.8 L1490.4,1206.4 L1490.9,1219.6 L1491.4,1230.9 L1491.9,1240.2 L1492.4,1247.7 L1492.9,1253.5 L1493.4,1257.9 L1493.9,1261.1 L1494.4,1263.5 L1494.9,1265.2 L1495.4,1266.5 L1495.9,1267.5 L1496.4,1268.2 L1496.9,1268.8 L1497.4,1269.3 L1497.9,1269.7 L1498.4,1270.0 L1498.9,1270.3 L1499.4,1270.6 L1499.9,1270.8 L1500.4,1271.1 L1500.9,1271.2 L1501.4,1271.4 L1501.9,1271.6 L1502.4,1271.7 L1502.9,1271.8 L1503.4,1271.9 L1503.9,1272.0 L1504.4,1272.1 L1504.9,1272.2 L1505.4,1272.3 L1505.9,1272.4 L1506.4,1272.4 L1506.9,1272.5 L1507.4,1272.6 L1507.9,1272.6 L1508.4,1272.6 L1508.9,1272.7 L1509.4,1272.7 L1509.9,1272.7 L1510.4,1272.8 L1510.9,1272.8 L1511.4,1272.8 L1511.9,1272.8 L1512.4,1272.8 L1512.9,1272.8 L1513.4,1272.7 L1513.9,1272.7 L1514.4,1272.6 L1514.9,1272.6 L1515.4,1272.4 L1515.9,1272.2 L1516.4,1272.0 L1516.9,1271.5 L1517.4,1271.0 L1517.9,1270.2 L1518.4,1269.1 L1518.9,1267.8 L1519.4,1266.3 L1519.9,1264.5 L1520.4,1262.7 L1520.9,1260.9 L1521.4,1259.3 L1521.9,1258.3 L1522.4,1258.1 L1522.9,1258.7 L1523.4,1259.9 L1523.9,1261.6 L1524.4,1263.5 L1524.9,1265.3 L1525.4,1267.0 L1525.9,1268.5 L1526.4,1269.7 L1526.9,1270.7 L1527.4,1271.4 L1527.9,1271.9 L1528.4,1272.3 L1528.9,1272.6 L1529.4,1272.8 L1529.9,1272.9 L1530.4,1273.0 L1530.9,1273.1 L1531.4,1273.1 L1531.9,1273.1 L1532.4,1273.2 L1532.9,1273.2 L1533.4,1273.1 L1533.9,1273.1 L1534.4,1273.0 L1534.9,1272.9 L1535.4,1272.8 L1535.9,1272.6 L1536.4,1272.4 L1536.9,1272.2 L1537.4,1271.9 L1537.9,1271.6 L1538.4,1271.2 L1538.9,1270.9 L1539.4,1270.6 L1539.9,1270.3 L1540.4,1270.2 L1540.9,1270.2 L1541.4,1270.3 L1541.9,1270.5 L1542.4,1270.8 L1542.9,1271.1 L1543.4,1271.5 L1543.9,1271.8 L1544.4,1272.1 L1544.9,1272.4 L1545.4,1272.7 L1545.9,1272.9 L1546.4,1273.0 L1546.9,1273.1 L1547.4,1273.2 L1547.9,1273.3 L1548.4,1273.4 L1548.9,1273.4 L1549.4,1273.4 L1549.9,1273.4 L1550.4,1273.4 L1550.9,1273.4 L1551.4,1273.4 L1551.9,1273.4 L1552.4,1273.4 L1552.9,1273.4 L1553.4,1273.4 L1553.9,1273.4 L1554.4,1273.3 L1554.9,1273.3 L1555.4,1273.3 L1555.9,1273.3 L1556.4,1273.2 L1556.9,1273.2 L1557.4,1273.1 L1557.9,1273.1 L1558.4,1273.0 L1558.9,1272.9 L1559.4,1272.8 L1559.9,1272.7 L1560.4,1272.6 L1560.9,1272.4 L1561.4,1272.2 L1561.9,1271.9 L1562.4,1271.6 L1562.9,1271.2 L1563.4,1270.7 L1563.9,1270.0 L1564.4,1269.2 L1564.9,1268.3 L1565.4,1267.2 L1565.9,1266.0 L1566.4,1264.5 L1566.9,1262.9 L1567.4,1261.2 L1567.9,1259.3 L1568.4,1257.4 L1568.9,1255.4 L1569.4,1253.5 L1569.9,1251.7 L1570.4,1250.2 L1570.9,1249.0 L1571.4,1248.3 L1571.9,1248.1 L1572.4,1248.4 L1572.9,1249.2 L1573.4,1250.5 L1573.9,1252.1 L1574.4,1253.9 L1574.9,1255.9 L1575.4,1257.8 L1575.9,1259.8 L1576.4,1261.6 L1576.9,1263.3 L1577.4,1264.9 L1577.9,1266.3 L1578.4,1267.5 L1578.9,1268.5 L1579.4,1269.4 L1579.9,1270.2 L1580.4,1270.7 L1580.9,1271.2 L1581.4,1271.6 L1581.9,1271.9 L1582.4,1272.1 L1582.9,1272.2 L1583.4,1272.3 L1583.9,1272.2 L1584.4,1272.2 L1584.9,1272.0 L1585.4,1271.8 L1585.9,1271.6 L1586.4,1271.4 L1586.9,1271.1 L1587.4,1271.0 L1587.9,1270.9 L1588.4,1271.0 L1588.9,1271.2 L1589.4,1271.4 L1589.9,1271.8 L1590.4,1272.1 L1590.9,1272.4 L1591.4,1272.7 L1591.9,1272.9 L1592.4,1273.1 L1592.9,1273.3 L1593.4,1273.4 L1593.9,1273.5 L1594.4,1273.5 L1594.9,1273.6 L1595.4,1273.6 L1595.9,1273.7 L1596.4,1273.7 L1596.9,1273.7 L1597.4,1273.7 L1597.9,1273.7 L1598.4,1273.8 L1598.9,1273.8 L1599.4,1273.8 L1599.9,1273.8 L1600.4,1273.8 L1600.9,1273.8 L1601.4,1273.8 L1601.9,1273.8 L1602.4,1273.8 L1602.9,1273.8 L1603.4,1273.8 L1603.9,1273.8 L1604.4,1273.9 L1604.9,1273.9 L1605.4,1273.9 L1605.9,1273.9 L1606.4,1273.9 L1606.9,1273.9 L1607.4,1273.9 L1607.9,1273.9 L1608.4,1273.9 L1608.9,1273.8 L1609.4,1273.8 L1609.9,1273.8 L1610.4,1273.8 L1610.9,1273.8 L1611.4,1273.8 L1611.9,1273.8 L1612.4,1273.8 L1612.9,1273.8 L1613.4,1273.8 L1613.9,1273.7 L1614.4,1273.7 L1614.9,1273.7 L1615.4,1273.7 L1615.9,1273.6 L1616.4,1273.6 L1616.9,1273.5 L1617.4,1273.5 L1617.9,1273.4 L1618.4,1273.3 L1618.9,1273.2 L1619.4,1273.1 L1619.9,1272.8 L1620.4,1272.5 L1620.9,1272.1 L1621.4,1271.6 L1621.9,1270.8 L1622.4,1269.9 L1622.9,1268.8 L1623.4,1267.4 L1623.9,1265.8 L1624.4,1264.2 L1624.9,1262.5 L1625.4,1260.9 L1625.9,1259.6 L1626.4,1258.8 L1626.9,1258.6 L1627.4,1259.1 L1627.9,1260.2 L1628.4,1261.6 L1628.9,1263.3 L1629.4,1265.0 L1629.9,1266.6 L1630.4,1268.1 L1630.9,1269.3 L1631.4,1270.4 L1631.9,1271.2 L1632.4,1271.8 L1632.9,1272.3 L1633.4,1272.6 L1633.9,1272.8 L1634.4,1273.0 L1634.9,1273.1 L1635.4,1273.1 L1635.9,1273.1 L1636.4,1273.0 L1636.9,1272.9 L1637.4,1272.7 L1637.9,1272.4 L1638.4,1272.0 L1638.9,1271.5 L1639.4,1271.0 L1639.9,1270.5 L1640.4,1270.0 L1640.9,1269.6 L1641.4,1269.4 L1641.9,1269.5 L1642.4,1269.7 L1642.9,1270.1 L1643.4,1270.7 L1643.9,1271.2 L1644.4,1271.8 L1644.9,1272.2 L1645.4,1272.6 L1645.9,1273.0 L1646.4,1273.2 L1646.9,1273.4 L1647.4,1273.6 L1647.9,1273.7 L1648.4,1273.8 L1648.9,1273.8 L1649.4,1273.9 L1649.9,1273.9 L1650.4,1273.9 L1650.9,1273.9 L1651.4,1273.9 L1651.9,1274.0 L1652.4,1274.0 L1652.9,1274.0 L1653.4,1274.0 L1653.9,1274.0 L1654.4,1274.0 L1654.9,1274.0 L1655.4,1274.0 L1655.9,1274.0 L1656.4,1274.0 L1656.9,1274.0 L1657.4,1274.1 L1657.9,1274.1 L1658.4,1274.1 L1658.9,1274.1 L1659.4,1274.1 L1659.9,1274.1 L1660.4,1274.1 L1660.9,1274.1 L1661.4,1274.1 L1661.9,1274.1 L1662.4,1274.1 L1662.9,1274.1 L1663.4,1274.1 L1663.9,1274.1 L1664.4,1274.1 L1664.9,1274.1 L1665.4,1274.1 L1665.9,1274.1 L1666.4,1274.1 L1666.9,1274.1 L1667.4,1274.1 L1667.9,1274.1 L1668.4,1274.1 L1668.9,1274.1 L1669.4,1274.1 L1669.9,1274.1 L1670.4,1274.1 L1670.9,1274.1 L1671.4,1274.1 L1671.9,1274.1 L1672.4,1274.1 L1672.9,1274.1 L1673.4,1274.1 L1673.9,1274.1 L1674.4,1274.1 L1674.9,1274.1 L1675.4,1274.1 L1675.9,1274.1 L1676.4,1274.1 L1676.9,1274.1 L1677.4,1274.1 L1677.9,1274.1 L1678.4,1274.1 L1678.9,1274.1 L1679.4,1274.1 L1679.9,1274.1 L1680.4,1274.1 L1680.9,1274.1 L1681.4,1274.1 L1681.9,1274.1 L1682.4,1274.1 L1682.9,1274.1 L1683.4,1274.1 L1683.9,1274.1 L1684.4,1274.0 L1684.9,1274.0 L1685.4,1274.0 L1685.9,1274.0 L1686.4,1274.0 L1686.9,1274.0 L1687.4,1274.0 L1687.9,1273.9 L1688.4,1273.9 L1688.9,1273.9 L1689.4,1273.8 L1689.9,1273.7 L1690.4,1273.6 L1690.9,1273.4 L1691.4,1273.1 L1691.9,1272.8 L1692.4,1272.4 L1692.9,1271.9 L1693.4,1271.4 L1693.9,1270.8 L1694.4,1270.3 L1694.9,1269.9 L1695.4,1269.7 L1695.9,1269.7 L1696.4,1269.9 L1696.9,1270.3 L1697.4,1270.8 L1697.9,1271.3 L1698.4,1271.9 L1698.9,1272.3 L1699.4,1272.7 L1699.9,1273.1 L1700.4,1273.3 L1700.9,1273.5 L1701.4,1273.7 L1701.9,1273.8 L1702.4,1273.8 L1702.9,1273.9 L1703.4,1273.9 L1703.9,1273.9 L1704.4,1274.0 L1704.9,1274.0 L1705.4,1274.0 L1705.9,1274.0 L1706.4,1274.0 L1706.9,1274.0 L1707.4,1274.0 L1707.9,1274.0 L1708.4,1274.0 L1708.9,1274.0 L1709.4,1274.0 L1709.9,1274.0 L1710.4,1274.0 L1710.9,1274.0 L1711.4,1274.0 L1711.9,1274.0 L1712.4,1274.0 L1712.9,1274.0 L1713.4,1274.0 L1713.9,1274.0 L1714.4,1274.0 L1714.9,1274.0 L1715.4,1274.0 L1715.9,1274.0 L1716.4,1274.0 L1716.9,1274.0 L1717.4,1274.0 L1717.9,1274.0 L1718.4,1274.0 L1718.9,1274.0 L1719.4,1274.0 L1719.9,1274.0 L1720.4,1274.0 L1720.9,1274.0 L1721.4,1274.0 L1721.9,1274.0 L1722.4,1274.0 L1722.9,1274.0 L1723.4,1274.0 L1723.9,1274.0 L1724.4,1274.0 L1724.9,1274.0 L1725.4,1274.0 L1725.9,1274.0 L1726.4,1274.0 L1726.9,1274.0 L1727.4,1274.0 L1727.9,1274.0 L1728.4,1274.0 L1728.9,1274.0 L1729.4,1274.0 L1729.9,1273.9 L1730.4,1273.9 L1730.9,1273.9 L1731.4,1273.9 L1731.9,1273.9 L1732.4,1273.9 L1732.9,1273.9 L1733.4,1273.9 L1733.9,1273.9 L1734.4,1273.9 L1734.9,1273.9 L1735.4,1273.9 L1735.9,1273.8 L1736.4,1273.8 L1736.9,1273.8 L1737.4,1273.8 L1737.9,1273.8 L1738.4,1273.8 L1738.9,1273.8 L1739.4,1273.8 L1739.9,1273.7 L1740.4,1273.7 L1740.9,1273.7 L1741.4,1273.7 L1741.9,1273.7 L1742.4,1273.7 L1742.9,1273.6 L1743.4,1273.6 L1743.9,1273.6 L1744.4,1273.6 L1744.9,1273.5 L1745.4,1273.5 L1745.9,1273.5 L1746.4,1273.4 L1746.9,1273.4 L1747.4,1273.4 L1747.9,1273.3 L1748.4,1273.3 L1748.9,1273.2 L1749.4,1273.2 L1749.9,1273.1 L1750.4,1273.1 L1750.9,1273.0 L1751.4,1272.9 L1751.9,1272.9 L1752.4,1272.8 L1752.9,1272.7 L1753.4,1272.6 L1753.9,1272.5 L1754.4,1272.4 L1754.9,1272.2 L1755.4,1272.1 L1755.9,1271.9 L1756.4,1271.7 L1756.9,1271.5 L1757.4,1271.3 L1757.9,1271.0 L1758.4,1270.6 L1758.9,1270.1 L1759.4,1269.5 L1759.9,1268.8 L1760.4,1267.7 L1760.9,1266.2 L1761.4,1264.1 L1761.9,1261.4 L1762.4,1257.9 L1762.9,1253.3 L1763.4,1247.8 L1763.9,1241.4 L1764.4,1234.3 L1764.9,1226.7 L1765.4,1219.3 L1765.9,1212.6 L1766.4,1207.3 L1766.9,1203.4 L1767.4,1200.6 L1767.9,1198.4 L1768.4,1196.2 L1768.9,1193.8 L1769.4,1191.4 L1769.9,1189.6 L1770.4,1189.1 L1770.9,1190.7 L1771.4,1194.8 L1771.9,1201.2 L1772.4,1209.1 L1772.9,1217.8 L1773.4,1226.6 L1773.9,1234.9 L1774.4,1242.4 L1774.9,1248.8 L1775.4,1254.2 L1775.9,1258.5 L1776.4,1261.8 L1776.9,1264.4 L1777.4,1266.3 L1777.9,1267.7 L1778.4,1268.7 L1778.9,1269.4 L1779.4,1270.0 L1779.9,1270.5 L1780.4,1270.8 L1780.9,1271.1 L1781.4,1271.4 L1781.9,1271.6 L1782.4,1271.8 L1782.9,1271.9 L1783.4,1272.1 L1783.9,1272.2 L1784.4,1272.3 L1784.9,1272.4 L1785.4,1272.5 L1785.9,1272.6 L1786.4,1272.7 L1786.9,1272.8 L1787.4,1272.8 L1787.9,1272.9 L1788.4,1272.9 L1788.9,1273.0 L1789.4,1273.0 L1789.9,1273.1 L1790.4,1273.1 L1790.9,1273.1 L1791.4,1273.1 L1791.9,1273.2 L1792.4,1273.2 L1792.9,1273.2 L1793.4,1273.2 L1793.9,1273.2 L1794.4,1273.2 L1794.9,1273.3 L1795.4,1273.3 L1795.9,1273.3 L1796.4,1273.3 L1796.9,1273.2 L1797.4,1273.2 L1797.9,1273.2 L1798.4,1273.2 L1798.9,1273.2 L1799.4,1273.2 L1799.9,1273.1 L1800.4,1273.1 L1800.9,1273.0 L1801.4,1273.0 L1801.9,1272.9 L1802.4,1272.8 L1802.9,1272.7 L1803.4,1272.5 L1803.9,1272.3 L1804.4,1272.0 L1804.9,1271.6 L1805.4,1271.0 L1805.9,1270.2 L1806.4,1269.2 L1806.9,1267.9 L1807.4,1266.4 L1807.9,1264.7 L1808.4,1262.7 L1808.9,1260.7 L1809.4,1258.8 L1809.9,1257.1 L1810.4,1256.0 L1810.9,1255.5 L1811.4,1255.8 L1811.9,1256.8 L1812.4,1258.3 L1812.9,1260.2 L1813.4,1262.1 L1813.9,1264.0 L1814.4,1265.8 L1814.9,1267.2 L1815.4,1268.5 L1815.9,1269.5 L1816.4,1270.2 L1816.9,1270.8 L1817.4,1271.1 L1817.9,1271.3 L1818.4,1271.5 L1818.9,1271.5 L1819.4,1271.4 L1819.9,1271.3 L1820.4,1271.1 L1820.9,1270.7 L1821.4,1270.2 L1821.9,1269.5 L1822.4,1268.5 L1822.9,1267.2 L1823.4,1265.3 L1823.9,1262.9 L1824.4,1259.9 L1824.9,1256.2 L1825.4,1252.0 L1825.9,1247.3 L1826.4,1242.3 L1826.9,1237.5 L1827.4,1233.3 L1827.9,1230.2 L1828.4,1228.8 L1828.9,1229.4 L1829.4,1231.7 L1829.9,1235.5 L1830.4,1240.2 L1830.9,1245.1 L1831.4,1250.0 L1831.9,1254.5 L1832.4,1258.4 L1832.9,1261.7 L1833.4,1264.4 L1833.9,1266.5 L1834.4,1268.0 L1834.9,1269.2 L1835.4,1270.0 L1835.9,1270.6 L1836.4,1271.0 L1836.9,1271.2 L1837.4,1271.3 L1837.9,1271.3 L1838.4,1271.2 L1838.9,1271.0 L1839.4,1270.7 L1839.9,1270.1 L1840.4,1269.4 L1840.9,1268.5 L1841.4,1267.4 L1841.9,1266.2 L1842.4,1264.8 L1842.9,1263.4 L1843.4,1262.2 L1843.9,1261.2 L1844.4,1260.6 L1844.9,1260.5 L1845.4,1261.0 L1845.9,1262.0 L1846.4,1263.3 L1846.9,1264.7 L1847.4,1266.2 L1847.9,1267.5 L1848.4,1268.8 L1848.9,1269.8 L1849.4,1270.7 L1849.9,1271.4 L1850.4,1271.9 L1850.9,1272.3 L1851.4,1272.6 L1851.9,1272.8 L1852.4,1273.0 L1852.9,1273.1 L1853.4,1273.2 L1853.9,1273.2 L1854.4,1273.3 L1854.9,1273.3 L1855.4,1273.3 L1855.9,1273.3 L1856.4,1273.2 L1856.9,1273.2 L1857.4,1273.1 L1857.9,1272.9 L1858.4,1272.7 L1858.9,1272.5 L1859.4,1272.2 L1859.9,1271.9 L1860.4,1271.6 L1860.9,1271.4 L1861.4,1271.2 L1861.9,1271.2 L1862.4,1271.3 L1862.9,1271.5 L1863.4,1271.7 L1863.9,1272.0 L1864.4,1272.3 L1864.9,1272.6 L1865.4,1272.8 L1865.9,1273.0 L1866.4,1273.2 L1866.9,1273.3 L1867.4,1273.3 L1867.9,1273.4 L1868.4,1273.4 L1868.9,1273.4 L1869.4,1273.3 L1869.9,1273.3 L1870.4,1273.3 L1870.9,1273.2 L1871.4,1273.1 L1871.9,1273.0 L1872.4,1272.8 L1872.9,1272.6 L1873.4,1272.2 L1873.9,1271.8 L1874.4,1271.1 L1874.9,1270.3 L1875.4,1269.2 L1875.9,1267.9 L1876.4,1266.3 L1876.9,1264.5 L1877.4,1262.5 L1877.9,1260.4 L1878.4,1258.5 L1878.9,1256.9 L1879.4,1255.9 L1879.9,1255.6 L1880.4,1256.1 L1880.9,1257.3 L1881.4,1259.0 L1881.9,1260.9 L1882.4,1263.0 L1882.9,1264.9 L1883.4,1266.7 L1883.9,1268.3 L1884.4,1269.5 L1884.9,1270.6 L1885.4,1271.4 L1885.9,1272.0 L1886.4,1272.4 L1886.9,1272.7 L1887.4,1272.9 L1887.9,1273.1 L1888.4,1273.2 L1888.9,1273.3 L1889.4,1273.4 L1889.9,1273.5 L1890.4,1273.5 L1890.9,1273.6 L1891.4,1273.6 L1891.9,1273.6 L1892.4,1273.7 L1892.9,1273.7 L1893.4,1273.7 L1893.9,1273.7 L1894.4,1273.7 L1894.9,1273.8 L1895.4,1273.8 L1895.9,1273.8 L1896.4,1273.8 L1896.9,1273.8 L1897.4,1273.8 L1897.9,1273.8 L1898.4,1273.8 L1898.9,1273.8 L1899.4,1273.8 L1899.9,1273.8 L1900.4,1273.8 L1900.9,1273.8 L1901.4,1273.7 L1901.9,1273.7 L1902.4,1273.7 L1902.9,1273.7 L1903.4,1273.6 L1903.9,1273.6 L1904.4,1273.5 L1904.9,1273.4 L1905.4,1273.2 L1905.9,1273.0 L1906.4,1272.7 L1906.9,1272.3 L1907.4,1271.8 L1907.9,1271.2 L1908.4,1270.4 L1908.9,1269.6 L1909.4,1268.7 L1909.9,1267.7 L1910.4,1266.9 L1910.9,1266.1 L1911.4,1265.7 L1911.9,1265.5 L1912.4,1265.8 L1912.9,1266.4 L1913.4,1267.1 L1913.9,1268.0 L1914.4,1269.0 L1914.9,1269.9 L1915.4,1270.7 L1915.9,1271.4 L1916.4,1272.0 L1916.9,1272.4 L1917.4,1272.8 L1917.9,1273.0 L1918.4,1273.2 L1918.9,1273.4 L1919.4,1273.5 L1919.9,1273.6 L1920.4,1273.6 L1920.9,1273.6 L1921.4,1273.7 L1921.9,1273.7 L1922.4,1273.7 L1922.9,1273.7 L1923.4,1273.7 L1923.9,1273.7 L1924.4,1273.7 L1924.9,1273.7 L1925.4,1273.7 L1925.9,1273.7 L1926.4,1273.7 L1926.9,1273.7 L1927.4,1273.7 L1927.9,1273.7 L1928.4,1273.7 L1928.9,1273.7 L1929.4,1273.7 L1929.9,1273.6 L1930.4,1273.6 L1930.9,1273.6 L1931.4,1273.6 L1931.9,1273.5 L1932.4,1273.5 L1932.9,1273.4 L1933.4,1273.4 L1933.9,1273.3 L1934.4,1273.3 L1934.9,1273.2 L1935.4,1273.1 L1935.9,1273.1 L1936.4,1273.0 L1936.9,1272.8 L1937.4,1272.7 L1937.9,1272.5 L1938.4,1272.2 L1938.9,1271.8 L1939.4,1271.3 L1939.9,1270.7 L1940.4,1269.8 L1940.9,1268.6 L1941.4,1267.1 L1941.9,1265.2 L1942.4,1262.9 L1942.9,1260.2 L1943.4,1257.1 L1943.9,1253.8 L1944.4,1250.4 L1944.9,1247.1 L1945.4,1244.3 L1945.9,1242.4 L1946.4,1241.5 L1946.9,1241.9 L1947.4,1243.5 L1947.9,1246.0 L1948.4,1249.1 L1948.9,1252.5 L1949.4,1255.8 L1949.9,1258.9 L1950.4,1261.7 L1950.9,1264.1 L1951.4,1266.1 L1951.9,1267.6 L1952.4,1268.8 L1952.9,1269.7 L1953.4,1270.2 L1953.9,1270.5 L1954.4,1270.5 L1954.9,1270.2 L1955.4,1269.7 L1955.9,1268.9 L1956.4,1267.8 L1956.9,1266.4 L1957.4,1264.7 L1957.9,1262.9 L1958.4,1261.0 L1958.9,1259.3 L1959.4,1258.1 L1959.9,1257.6 L1960.4,1257.9 L1960.9,1259.0 L1961.4,1260.6 L1961.9,1262.5" stroke="#222" stroke-width="1.7"/>
</g>
<g class="ax">
<line x1="163.2" y1="55.6" x2="163.2" y2="1442.6" stroke-width="6.2"/><line x1="1964.8" y1="55.6" x2="1964.8" y2="1442.6" stroke-width="5.8"/><line x1="160.1" y1="58.4" x2="1967.7" y2="58.4" stroke-width="5.6"/><line x1="160.1" y1="1409.4" x2="1967.7" y2="1409.4" stroke-width="6.0"/>
<line x1="388.1" y1="1409.4" x2="388.1" y2="1442.6" stroke-width="6.2"/><line x1="614.2" y1="1409.4" x2="614.2" y2="1442.6" stroke-width="6.2"/><line x1="839.2" y1="1409.4" x2="839.2" y2="1442.6" stroke-width="6.2"/><line x1="1065.0" y1="1409.4" x2="1065.0" y2="1442.6" stroke-width="6.2"/><line x1="1290.6" y1="1409.4" x2="1290.6" y2="1442.6" stroke-width="6.2"/><line x1="1515.6" y1="1409.4" x2="1515.6" y2="1442.6" stroke-width="6.2"/><line x1="1741.4" y1="1409.4" x2="1741.4" y2="1442.6" stroke-width="6.2"/><line x1="274.4" y1="1409.4" x2="274.4" y2="1427.6" stroke-width="6.2"/><line x1="500.6" y1="1409.4" x2="500.6" y2="1427.6" stroke-width="6.2"/><line x1="725.1" y1="1409.4" x2="725.1" y2="1427.6" stroke-width="6.2"/><line x1="951.5" y1="1409.4" x2="951.5" y2="1427.6" stroke-width="6.2"/><line x1="1176.2" y1="1409.4" x2="1176.2" y2="1427.6" stroke-width="6.2"/><line x1="1402.3" y1="1409.4" x2="1402.3" y2="1427.6" stroke-width="6.2"/><line x1="1627.5" y1="1409.4" x2="1627.5" y2="1427.6" stroke-width="6.2"/><line x1="1853.1" y1="1409.4" x2="1853.1" y2="1427.6" stroke-width="6.2"/>
</g>
<g class="tl"><text x="162.5" y="1518.3">10</text><text x="387.7" y="1518.3">15</text><text x="612.7" y="1518.3">20</text><text x="837.9" y="1518.3">25</text><text x="1064.3" y="1518.3">30</text><text x="1289.7" y="1518.3">35</text><text x="1514.7" y="1518.3">40</text><text x="1740.0" y="1518.3">45</text><text x="1966.4" y="1518.3">50</text></g>
<text class="b" y="1599.2" font-size="79" fill="#000" style="white-space:pre"><tspan x="898.5" textLength="243" lengthAdjust="spacingAndGlyphs">degree </tspan><tspan x="1141" textLength="124" lengthAdjust="spacingAndGlyphs">(2<tspan font-weight="normal">θ</tspan>)</tspan></text>
<text class="b" transform="translate(105,1292.8) rotate(-90)" font-size="88" textLength="1004" lengthAdjust="spacingAndGlyphs" fill="#000">Intensity normalized (u.a.)</text>
<text class="b" x="1548" y="205.5" font-size="88.5" textLength="337" lengthAdjust="spacingAndGlyphs" fill="#00008b">Kaolinite</text>
<text class="b" x="1626.5" y="806" font-size="80" textLength="252" lengthAdjust="spacingAndGlyphs" fill="#000">JCPDS</text>
</svg>
</body></html>
